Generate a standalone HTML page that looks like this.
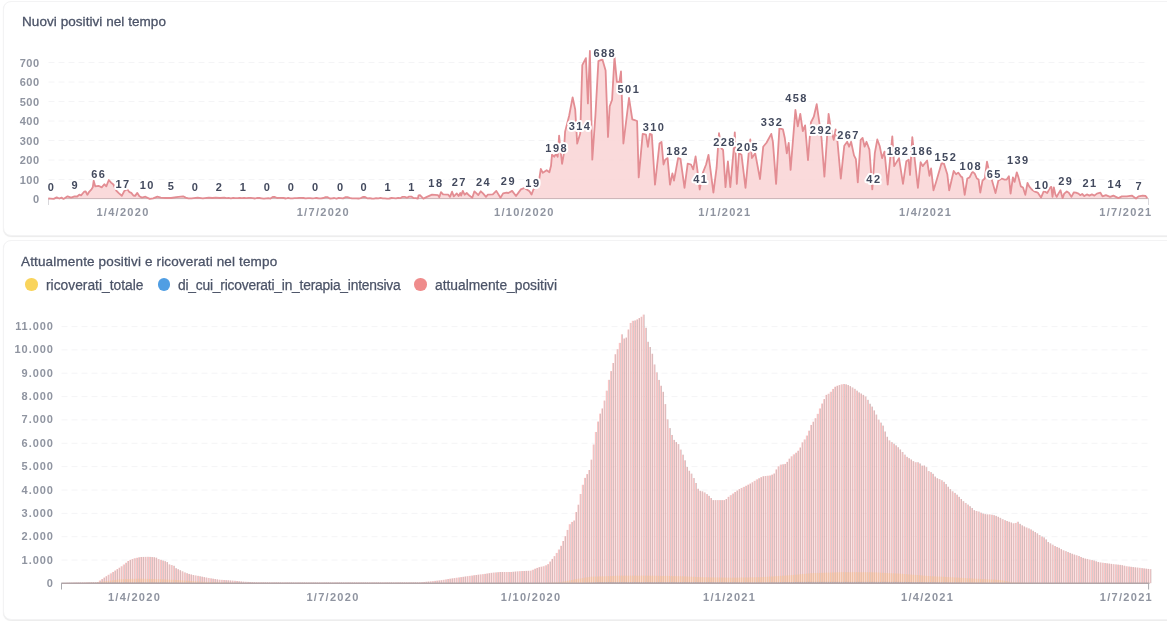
<!DOCTYPE html>
<html><head><meta charset="utf-8"><style>
html,body{margin:0;padding:0;background:#fff;width:1167px;height:621px;overflow:hidden;}
body{position:relative;font-family:"Liberation Sans",sans-serif;}
.card{position:absolute;left:3px;width:1200px;background:#fff;border:1px solid #f3f3f4;border-radius:8px;box-shadow:0 1px 1px rgba(0,0,0,0.08);box-sizing:border-box;}
.t{will-change:transform;position:absolute;color:#4b5367;font-size:13.5px;letter-spacing:0.06px;white-space:nowrap;-webkit-text-stroke:0.3px #4b5367;}
.lg{will-change:transform;position:absolute;color:#4b5367;font-size:13.8px;white-space:nowrap;-webkit-text-stroke:0.25px #4b5367;}
.dot{position:absolute;width:12.5px;height:12.5px;border-radius:50%;}
svg{position:absolute;left:0;top:0;will-change:transform;}
.ax{font-family:"Liberation Sans",sans-serif;font-size:11px;font-weight:bold;fill:#8f94a0;letter-spacing:0.6px;}
.xl{letter-spacing:1.3px;}
.a2{letter-spacing:0.95px;}
.dl{font-family:"Liberation Sans",sans-serif;font-size:11px;font-weight:bold;fill:#434a5e;letter-spacing:1.45px;stroke:#fff;stroke-width:4px;paint-order:stroke;stroke-linejoin:round;}
.grid{stroke:#f4f4f6;stroke-width:1;stroke-dasharray:6 4;}
</style></head><body>
<div class="card" style="top:1px;height:235px;"></div>
<div class="card" style="top:240px;height:380px;"></div>
<div class="t" style="left:21.5px;top:13.6px;">Nuovi positivi nel tempo</div>
<div class="t" style="left:21px;top:254.2px;letter-spacing:0.15px;">Attualmente positivi e ricoverati nel tempo</div>
<div class="dot" style="left:25.3px;top:278px;background:#f9d45c;"></div>
<div class="lg" style="left:46px;top:278px;">ricoverati_totale</div>
<div class="dot" style="left:157.5px;top:278px;background:#509ee3;"></div>
<div class="lg" style="left:178px;top:278px;letter-spacing:-0.2px;">di_cui_ricoverati_in_terapia_intensiva</div>
<div class="dot" style="left:414.3px;top:278px;background:#ef8c8c;"></div>
<div class="lg" style="left:435px;top:278px;">attualmente_positivi</div>
<svg width="1167" height="621" viewBox="0 0 1167 621">
<text x="39.8" y="203.1" text-anchor="end" class="ax">0</text>
<text x="39.8" y="183.6" text-anchor="end" class="ax">100</text>
<line x1="48.5" x2="1148.5" y1="179.5" y2="179.5" class="grid"/>
<text x="39.8" y="164.1" text-anchor="end" class="ax">200</text>
<line x1="48.5" x2="1148.5" y1="160.0" y2="160.0" class="grid"/>
<text x="39.8" y="144.6" text-anchor="end" class="ax">300</text>
<line x1="48.5" x2="1148.5" y1="140.5" y2="140.5" class="grid"/>
<text x="39.8" y="125.1" text-anchor="end" class="ax">400</text>
<line x1="48.5" x2="1148.5" y1="121.0" y2="121.0" class="grid"/>
<text x="39.8" y="105.6" text-anchor="end" class="ax">500</text>
<line x1="48.5" x2="1148.5" y1="101.5" y2="101.5" class="grid"/>
<text x="39.8" y="86.1" text-anchor="end" class="ax">600</text>
<line x1="48.5" x2="1148.5" y1="82.0" y2="82.0" class="grid"/>
<text x="39.8" y="66.6" text-anchor="end" class="ax">700</text>
<line x1="48.5" x2="1148.5" y1="62.5" y2="62.5" class="grid"/>
<path d="M48.3,198.5 L50.7,198.7 L53.7,198.9 L56.7,197.4 L59.3,198.5 L61.5,197.6 L63.5,198.9 L67.6,196.3 L71.1,197.6 L74.6,196.3 L77.2,196.5 L79.3,194.6 L81.1,195.4 L84.1,191.7 L85.7,191.5 L87.4,194.8 L88.9,192.2 L91.5,189.3 L92.8,187.2 L93.7,180.7 L95.3,186.4 L98.5,185.8 L101.7,187.4 L104.3,184.2 L106.3,186.4 L108.8,180.0 L111.1,182.6 L113.4,184.5 L116.3,190.6 L118.5,192.9 L121.8,195.8 L124.3,191.0 L127.2,189.3 L129.5,192.2 L131.3,192.9 L133.4,195.5 L135.1,195.9 L137.3,192.9 L139.4,196.3 L142.0,197.6 L145.4,196.7 L149.7,198.9 L153.1,198.4 L157.4,196.7 L160.8,197.6 L166.0,198.0 L171.1,198.0 L176.3,197.1 L183.1,196.3 L185.7,197.6 L188.3,198.4 L191.7,198.4 L197.7,197.6 L202.8,198.4 L208.8,197.6 L212.3,198.0 L215.7,197.6 L220.0,198.0 L224.3,197.6 L226.5,198.1 L228.7,197.9 L230.9,198.3 L233.1,197.9 L235.3,198.2 L237.5,198.1 L239.7,197.8 L241.9,198.2 L244.1,197.8 L246.3,198.1 L248.5,197.9 L250.7,197.9 L252.9,198.1 L255.1,198.5 L257.3,197.9 L259.5,198.0 L261.7,198.3 L263.9,198.6 L266.1,198.3 L268.3,198.1 L270.5,198.6 L272.7,197.0 L274.9,197.0 L277.1,198.0 L279.3,197.9 L281.5,197.9 L283.7,198.0 L285.9,198.5 L288.1,197.9 L290.3,198.3 L292.5,198.3 L294.7,198.1 L296.9,198.2 L299.1,197.9 L301.3,197.8 L303.5,198.0 L305.7,198.3 L307.9,198.1 L310.1,198.1 L312.3,198.3 L314.5,198.2 L316.7,198.0 L318.9,198.4 L321.1,198.4 L323.3,198.0 L325.5,197.2 L327.7,197.2 L329.9,198.5 L332.1,198.4 L334.3,198.0 L336.5,198.6 L338.7,197.9 L340.9,198.1 L343.1,198.4 L345.3,197.2 L347.5,197.2 L349.7,197.8 L351.9,198.3 L354.1,198.4 L356.3,198.3 L358.5,198.5 L360.7,198.1 L362.9,197.0 L365.1,197.0 L367.3,198.3 L369.5,198.2 L371.7,198.5 L373.9,198.6 L376.1,198.2 L378.3,198.3 L380.5,197.8 L382.7,198.4 L384.9,198.3 L387.1,198.6 L389.3,198.5 L391.5,198.0 L393.7,198.1 L395.9,198.3 L398.1,197.8 L400.3,198.2 L402.5,196.8 L404.7,196.8 L406.9,197.8 L409.1,196.6 L411.3,196.6 L413.5,198.0 L415.7,198.1 L417.9,198.5 L418.6,195.3 L420.0,195.1 L423.4,198.6 L426.9,196.9 L432.0,194.7 L438.0,195.1 L439.3,197.3 L441.0,192.1 L443.1,194.3 L448.3,194.7 L450.0,196.9 L452.1,191.7 L453.8,196.4 L456.8,193.4 L458.6,196.0 L460.3,193.0 L461.1,195.6 L462.8,190.9 L464.6,194.7 L466.7,193.0 L469.3,195.6 L472.3,197.7 L474.4,191.3 L476.6,193.4 L478.3,195.1 L480.8,191.3 L483.0,193.4 L486.0,196.9 L487.7,194.7 L492.8,194.3 L496.3,190.9 L500.5,197.7 L503.1,193.4 L506.5,192.6 L508.3,193.0 L512.1,190.9 L516.0,196.0 L518.5,192.6 L520.9,189.4 L524.3,188.0 L527.6,190.0 L529.5,191.3 L531.5,194.6 L533.5,189.3 L536.8,185.4 L539.4,178.1 L540.8,168.9 L542.8,172.8 L546.7,170.2 L549.4,172.2 L551.0,165.8 L552.0,154.7 L554.4,156.7 L556.0,153.7 L557.7,156.7 L559.1,135.6 L560.5,149.7 L562.1,163.8 L563.7,154.7 L565.1,131.6 L569.2,115.5 L572.6,97.3 L575.2,109.4 L577.2,143.6 L580.2,133.6 L582.3,65.1 L585.9,58.1 L587.9,103.4 L589.9,51.0 L592.3,159.7 L595.4,115.5 L598.4,61.1 L602.4,59.4 L605.6,70.6 L608.0,137.0 L609.7,106.3 L612.1,99.7 L614.5,56.9 L616.9,81.9 L619.4,81.9 L621.0,71.5 L623.4,143.5 L629.0,98.0 L632.3,119.4 L634.7,120.2 L637.1,121.0 L638.7,177.4 L642.7,133.9 L646.0,134.7 L647.9,146.8 L649.8,133.9 L651.8,134.7 L655.0,184.7 L659.5,143.5 L661.5,141.9 L663.5,164.5 L665.2,159.7 L667.6,158.1 L670.0,184.7 L672.4,173.4 L674.0,180.6 L678.1,158.1 L680.5,158.9 L684.5,187.9 L687.7,163.7 L691.0,164.5 L693.2,169.4 L695.6,156.5 L697.3,169.4 L699.7,189.5 L702.9,172.6 L706.1,164.5 L708.5,154.8 L710.2,167.7 L713.4,192.7 L716.6,167.7 L719.0,133.1 L721.5,148.4 L723.1,150.0 L725.5,187.1 L727.9,161.3 L730.3,187.1 L733.5,151.6 L734.8,132.3 L736.8,183.9 L739.0,153.2 L741.5,154.8 L745.5,187.9 L748.7,153.2 L750.3,139.5 L751.9,158.1 L755.2,153.2 L760.0,179.0 L763.2,146.8 L766.5,142.7 L771.3,133.9 L772.9,141.9 L776.1,183.9 L779.4,128.2 L782.9,129.3 L784.8,138.0 L786.8,153.4 L788.7,142.8 L790.6,169.9 L795.4,110.0 L797.8,126.4 L800.3,113.8 L802.8,131.2 L805.1,125.4 L808.0,160.2 L810.9,122.5 L813.8,116.7 L816.7,104.2 L819.6,124.4 L821.5,138.0 L824.4,176.6 L828.6,113.8 L830.8,128.3 L833.7,139.9 L835.6,129.3 L837.5,141.8 L840.8,178.6 L844.3,145.7 L847.2,141.8 L849.1,146.7 L851.1,141.8 L854.0,155.4 L855.9,159.2 L857.8,182.4 L860.7,139.9 L862.6,138.0 L864.6,146.7 L866.5,141.8 L869.4,149.6 L872.3,189.4 L874.8,153.2 L877.3,139.5 L879.7,146.0 L882.1,158.1 L884.5,151.6 L887.7,184.7 L890.2,158.1 L892.3,136.3 L894.2,166.1 L896.6,162.1 L899.0,158.1 L903.0,183.9 L906.3,161.3 L908.7,159.7 L910.0,175.0 L912.3,137.1 L914.4,156.5 L917.9,187.9 L920.6,162.1 L922.7,166.1 L927.1,160.5 L929.5,175.8 L931.1,168.5 L933.5,190.3 L936.0,182.3 L941.6,162.9 L944.0,163.7 L947.3,174.2 L949.2,190.3 L953.7,171.0 L956.1,174.2 L958.2,172.6 L961.0,176.6 L962.3,177.3 L964.7,194.8 L967.3,178.5 L969.6,177.4 L972.4,171.7 L974.6,173.4 L976.9,178.5 L978.6,179.6 L980.3,192.6 L982.5,180.7 L984.8,178.5 L985.9,169.5 L987.0,161.6 L988.2,167.2 L992.1,180.7 L995.5,193.1 L998.3,180.7 L1001.7,178.5 L1004.5,179.6 L1006.7,179.6 L1008.9,176.2 L1010.6,193.7 L1012.9,177.3 L1014.6,181.9 L1016.8,172.3 L1018.5,177.4 L1020.8,186.4 L1023.0,187.5 L1025.3,194.8 L1027.5,183.0 L1029.2,186.4 L1031.5,189.2 L1034.3,191.4 L1037.7,192.6 L1041.0,197.6 L1043.9,190.9 L1047.2,193.1 L1050.0,187.5 L1051.3,186.9 L1052.5,196.9 L1053.8,187.3 L1055.4,194.4 L1056.7,196.9 L1058.4,193.6 L1060.5,190.2 L1062.6,198.2 L1064.2,193.6 L1066.8,191.5 L1068.8,192.7 L1071.4,196.9 L1073.9,192.3 L1076.0,192.7 L1078.5,193.6 L1080.2,195.2 L1082.2,194.0 L1084.3,196.1 L1086.9,194.4 L1089.4,195.6 L1091.9,194.4 L1094.4,195.6 L1096.9,193.6 L1100.4,192.7 L1102.5,196.4 L1105.9,195.2 L1110.1,196.9 L1113.4,195.6 L1118.4,198.1 L1121.8,196.4 L1126.8,196.4 L1131.8,195.6 L1136.0,198.5 L1138.5,196.4 L1142.7,195.6 L1145.6,196.0 L1147.3,198.1 L1147.3,198.6 L48.3,198.6 Z" fill="#f9d3d5" fill-opacity="0.85"/>
<line x1="48.3" x2="1148.7" y1="198.6" y2="198.6" stroke="#c9b2b6" stroke-width="1"/>
<line x1="48.5" x2="48.5" y1="198.6" y2="205" stroke="#d8d8dc" stroke-width="1"/>
<line x1="1148.5" x2="1148.5" y1="198.6" y2="205" stroke="#d8d8dc" stroke-width="1"/>
<path d="M48.3,198.5 L50.7,198.7 L53.7,198.9 L56.7,197.4 L59.3,198.5 L61.5,197.6 L63.5,198.9 L67.6,196.3 L71.1,197.6 L74.6,196.3 L77.2,196.5 L79.3,194.6 L81.1,195.4 L84.1,191.7 L85.7,191.5 L87.4,194.8 L88.9,192.2 L91.5,189.3 L92.8,187.2 L93.7,180.7 L95.3,186.4 L98.5,185.8 L101.7,187.4 L104.3,184.2 L106.3,186.4 L108.8,180.0 L111.1,182.6 L113.4,184.5 L116.3,190.6 L118.5,192.9 L121.8,195.8 L124.3,191.0 L127.2,189.3 L129.5,192.2 L131.3,192.9 L133.4,195.5 L135.1,195.9 L137.3,192.9 L139.4,196.3 L142.0,197.6 L145.4,196.7 L149.7,198.9 L153.1,198.4 L157.4,196.7 L160.8,197.6 L166.0,198.0 L171.1,198.0 L176.3,197.1 L183.1,196.3 L185.7,197.6 L188.3,198.4 L191.7,198.4 L197.7,197.6 L202.8,198.4 L208.8,197.6 L212.3,198.0 L215.7,197.6 L220.0,198.0 L224.3,197.6 L226.5,198.1 L228.7,197.9 L230.9,198.3 L233.1,197.9 L235.3,198.2 L237.5,198.1 L239.7,197.8 L241.9,198.2 L244.1,197.8 L246.3,198.1 L248.5,197.9 L250.7,197.9 L252.9,198.1 L255.1,198.5 L257.3,197.9 L259.5,198.0 L261.7,198.3 L263.9,198.6 L266.1,198.3 L268.3,198.1 L270.5,198.6 L272.7,197.0 L274.9,197.0 L277.1,198.0 L279.3,197.9 L281.5,197.9 L283.7,198.0 L285.9,198.5 L288.1,197.9 L290.3,198.3 L292.5,198.3 L294.7,198.1 L296.9,198.2 L299.1,197.9 L301.3,197.8 L303.5,198.0 L305.7,198.3 L307.9,198.1 L310.1,198.1 L312.3,198.3 L314.5,198.2 L316.7,198.0 L318.9,198.4 L321.1,198.4 L323.3,198.0 L325.5,197.2 L327.7,197.2 L329.9,198.5 L332.1,198.4 L334.3,198.0 L336.5,198.6 L338.7,197.9 L340.9,198.1 L343.1,198.4 L345.3,197.2 L347.5,197.2 L349.7,197.8 L351.9,198.3 L354.1,198.4 L356.3,198.3 L358.5,198.5 L360.7,198.1 L362.9,197.0 L365.1,197.0 L367.3,198.3 L369.5,198.2 L371.7,198.5 L373.9,198.6 L376.1,198.2 L378.3,198.3 L380.5,197.8 L382.7,198.4 L384.9,198.3 L387.1,198.6 L389.3,198.5 L391.5,198.0 L393.7,198.1 L395.9,198.3 L398.1,197.8 L400.3,198.2 L402.5,196.8 L404.7,196.8 L406.9,197.8 L409.1,196.6 L411.3,196.6 L413.5,198.0 L415.7,198.1 L417.9,198.5 L418.6,195.3 L420.0,195.1 L423.4,198.6 L426.9,196.9 L432.0,194.7 L438.0,195.1 L439.3,197.3 L441.0,192.1 L443.1,194.3 L448.3,194.7 L450.0,196.9 L452.1,191.7 L453.8,196.4 L456.8,193.4 L458.6,196.0 L460.3,193.0 L461.1,195.6 L462.8,190.9 L464.6,194.7 L466.7,193.0 L469.3,195.6 L472.3,197.7 L474.4,191.3 L476.6,193.4 L478.3,195.1 L480.8,191.3 L483.0,193.4 L486.0,196.9 L487.7,194.7 L492.8,194.3 L496.3,190.9 L500.5,197.7 L503.1,193.4 L506.5,192.6 L508.3,193.0 L512.1,190.9 L516.0,196.0 L518.5,192.6 L520.9,189.4 L524.3,188.0 L527.6,190.0 L529.5,191.3 L531.5,194.6 L533.5,189.3 L536.8,185.4 L539.4,178.1 L540.8,168.9 L542.8,172.8 L546.7,170.2 L549.4,172.2 L551.0,165.8 L552.0,154.7 L554.4,156.7 L556.0,153.7 L557.7,156.7 L559.1,135.6 L560.5,149.7 L562.1,163.8 L563.7,154.7 L565.1,131.6 L569.2,115.5 L572.6,97.3 L575.2,109.4 L577.2,143.6 L580.2,133.6 L582.3,65.1 L585.9,58.1 L587.9,103.4 L589.9,51.0 L592.3,159.7 L595.4,115.5 L598.4,61.1 L602.4,59.4 L605.6,70.6 L608.0,137.0 L609.7,106.3 L612.1,99.7 L614.5,56.9 L616.9,81.9 L619.4,81.9 L621.0,71.5 L623.4,143.5 L629.0,98.0 L632.3,119.4 L634.7,120.2 L637.1,121.0 L638.7,177.4 L642.7,133.9 L646.0,134.7 L647.9,146.8 L649.8,133.9 L651.8,134.7 L655.0,184.7 L659.5,143.5 L661.5,141.9 L663.5,164.5 L665.2,159.7 L667.6,158.1 L670.0,184.7 L672.4,173.4 L674.0,180.6 L678.1,158.1 L680.5,158.9 L684.5,187.9 L687.7,163.7 L691.0,164.5 L693.2,169.4 L695.6,156.5 L697.3,169.4 L699.7,189.5 L702.9,172.6 L706.1,164.5 L708.5,154.8 L710.2,167.7 L713.4,192.7 L716.6,167.7 L719.0,133.1 L721.5,148.4 L723.1,150.0 L725.5,187.1 L727.9,161.3 L730.3,187.1 L733.5,151.6 L734.8,132.3 L736.8,183.9 L739.0,153.2 L741.5,154.8 L745.5,187.9 L748.7,153.2 L750.3,139.5 L751.9,158.1 L755.2,153.2 L760.0,179.0 L763.2,146.8 L766.5,142.7 L771.3,133.9 L772.9,141.9 L776.1,183.9 L779.4,128.2 L782.9,129.3 L784.8,138.0 L786.8,153.4 L788.7,142.8 L790.6,169.9 L795.4,110.0 L797.8,126.4 L800.3,113.8 L802.8,131.2 L805.1,125.4 L808.0,160.2 L810.9,122.5 L813.8,116.7 L816.7,104.2 L819.6,124.4 L821.5,138.0 L824.4,176.6 L828.6,113.8 L830.8,128.3 L833.7,139.9 L835.6,129.3 L837.5,141.8 L840.8,178.6 L844.3,145.7 L847.2,141.8 L849.1,146.7 L851.1,141.8 L854.0,155.4 L855.9,159.2 L857.8,182.4 L860.7,139.9 L862.6,138.0 L864.6,146.7 L866.5,141.8 L869.4,149.6 L872.3,189.4 L874.8,153.2 L877.3,139.5 L879.7,146.0 L882.1,158.1 L884.5,151.6 L887.7,184.7 L890.2,158.1 L892.3,136.3 L894.2,166.1 L896.6,162.1 L899.0,158.1 L903.0,183.9 L906.3,161.3 L908.7,159.7 L910.0,175.0 L912.3,137.1 L914.4,156.5 L917.9,187.9 L920.6,162.1 L922.7,166.1 L927.1,160.5 L929.5,175.8 L931.1,168.5 L933.5,190.3 L936.0,182.3 L941.6,162.9 L944.0,163.7 L947.3,174.2 L949.2,190.3 L953.7,171.0 L956.1,174.2 L958.2,172.6 L961.0,176.6 L962.3,177.3 L964.7,194.8 L967.3,178.5 L969.6,177.4 L972.4,171.7 L974.6,173.4 L976.9,178.5 L978.6,179.6 L980.3,192.6 L982.5,180.7 L984.8,178.5 L985.9,169.5 L987.0,161.6 L988.2,167.2 L992.1,180.7 L995.5,193.1 L998.3,180.7 L1001.7,178.5 L1004.5,179.6 L1006.7,179.6 L1008.9,176.2 L1010.6,193.7 L1012.9,177.3 L1014.6,181.9 L1016.8,172.3 L1018.5,177.4 L1020.8,186.4 L1023.0,187.5 L1025.3,194.8 L1027.5,183.0 L1029.2,186.4 L1031.5,189.2 L1034.3,191.4 L1037.7,192.6 L1041.0,197.6 L1043.9,190.9 L1047.2,193.1 L1050.0,187.5 L1051.3,186.9 L1052.5,196.9 L1053.8,187.3 L1055.4,194.4 L1056.7,196.9 L1058.4,193.6 L1060.5,190.2 L1062.6,198.2 L1064.2,193.6 L1066.8,191.5 L1068.8,192.7 L1071.4,196.9 L1073.9,192.3 L1076.0,192.7 L1078.5,193.6 L1080.2,195.2 L1082.2,194.0 L1084.3,196.1 L1086.9,194.4 L1089.4,195.6 L1091.9,194.4 L1094.4,195.6 L1096.9,193.6 L1100.4,192.7 L1102.5,196.4 L1105.9,195.2 L1110.1,196.9 L1113.4,195.6 L1118.4,198.1 L1121.8,196.4 L1126.8,196.4 L1131.8,195.6 L1136.0,198.5 L1138.5,196.4 L1142.7,195.6 L1145.6,196.0 L1147.3,198.1" fill="none" stroke="#e38d93" stroke-width="1.8" stroke-linejoin="round"/>
<text x="51.6" y="190.9" text-anchor="middle" class="dl">0</text>
<text x="75.4" y="189.1" text-anchor="middle" class="dl">9</text>
<text x="98.8" y="178.0" text-anchor="middle" class="dl">66</text>
<text x="123.0" y="187.6" text-anchor="middle" class="dl">17</text>
<text x="147.3" y="189.0" text-anchor="middle" class="dl">10</text>
<text x="171.5" y="189.9" text-anchor="middle" class="dl">5</text>
<text x="195.5" y="190.9" text-anchor="middle" class="dl">0</text>
<text x="219.5" y="190.5" text-anchor="middle" class="dl">2</text>
<text x="243.5" y="190.7" text-anchor="middle" class="dl">1</text>
<text x="267.5" y="190.9" text-anchor="middle" class="dl">0</text>
<text x="291.5" y="190.9" text-anchor="middle" class="dl">0</text>
<text x="315.8" y="190.9" text-anchor="middle" class="dl">0</text>
<text x="340.7" y="190.9" text-anchor="middle" class="dl">0</text>
<text x="364.4" y="190.9" text-anchor="middle" class="dl">0</text>
<text x="388.4" y="190.7" text-anchor="middle" class="dl">1</text>
<text x="412.0" y="190.7" text-anchor="middle" class="dl">1</text>
<text x="435.9" y="187.4" text-anchor="middle" class="dl">18</text>
<text x="459.2" y="185.6" text-anchor="middle" class="dl">27</text>
<text x="483.5" y="186.2" text-anchor="middle" class="dl">24</text>
<text x="508.4" y="185.2" text-anchor="middle" class="dl">29</text>
<text x="532.9" y="187.2" text-anchor="middle" class="dl">19</text>
<text x="556.7" y="152.3" text-anchor="middle" class="dl">198</text>
<text x="580.1" y="129.7" text-anchor="middle" class="dl">314</text>
<text x="604.8" y="56.7" text-anchor="middle" class="dl">688</text>
<text x="628.9" y="93.2" text-anchor="middle" class="dl">501</text>
<text x="654.0" y="130.5" text-anchor="middle" class="dl">310</text>
<text x="677.5" y="155.4" text-anchor="middle" class="dl">182</text>
<text x="700.7" y="182.9" text-anchor="middle" class="dl">41</text>
<text x="724.6" y="146.4" text-anchor="middle" class="dl">228</text>
<text x="747.8" y="150.9" text-anchor="middle" class="dl">205</text>
<text x="772.0" y="126.2" text-anchor="middle" class="dl">332</text>
<text x="796.5" y="101.6" text-anchor="middle" class="dl">458</text>
<text x="821.2" y="134.0" text-anchor="middle" class="dl">292</text>
<text x="848.5" y="138.8" text-anchor="middle" class="dl">267</text>
<text x="873.9" y="182.7" text-anchor="middle" class="dl">42</text>
<text x="898.1" y="155.4" text-anchor="middle" class="dl">182</text>
<text x="922.3" y="154.6" text-anchor="middle" class="dl">186</text>
<text x="945.9" y="161.3" text-anchor="middle" class="dl">152</text>
<text x="970.8" y="169.8" text-anchor="middle" class="dl">108</text>
<text x="994.3" y="178.2" text-anchor="middle" class="dl">65</text>
<text x="1018.3" y="163.8" text-anchor="middle" class="dl">139</text>
<text x="1042.0" y="189.0" text-anchor="middle" class="dl">10</text>
<text x="1065.8" y="185.2" text-anchor="middle" class="dl">29</text>
<text x="1090.1" y="186.8" text-anchor="middle" class="dl">21</text>
<text x="1115.1" y="188.2" text-anchor="middle" class="dl">14</text>
<text x="1139.2" y="189.5" text-anchor="middle" class="dl">7</text>
<text x="123.0" y="215.8" text-anchor="middle" class="ax xl">1/4/2020</text>
<text x="323.3" y="215.8" text-anchor="middle" class="ax xl">1/7/2020</text>
<text x="524.4" y="215.8" text-anchor="middle" class="ax xl">1/10/2020</text>
<text x="724.8" y="215.8" text-anchor="middle" class="ax xl">1/1/2021</text>
<text x="925.5" y="215.8" text-anchor="middle" class="ax xl">1/4/2021</text>
<text x="1125.9" y="215.8" text-anchor="middle" class="ax xl">1/7/2021</text>
<text x="53.9" y="586.9" text-anchor="end" class="ax a2">0</text>
<text x="53.9" y="563.5" text-anchor="end" class="ax a2">1.000</text>
<line x1="61.5" x2="1149" y1="560.0" y2="560.0" class="grid"/>
<text x="53.9" y="540.2" text-anchor="end" class="ax a2">2.000</text>
<line x1="61.5" x2="1149" y1="536.7" y2="536.7" class="grid"/>
<text x="53.9" y="516.9" text-anchor="end" class="ax a2">3.000</text>
<line x1="61.5" x2="1149" y1="513.4" y2="513.4" class="grid"/>
<text x="53.9" y="493.5" text-anchor="end" class="ax a2">4.000</text>
<line x1="61.5" x2="1149" y1="490.0" y2="490.0" class="grid"/>
<text x="53.9" y="470.1" text-anchor="end" class="ax a2">5.000</text>
<line x1="61.5" x2="1149" y1="466.6" y2="466.6" class="grid"/>
<text x="53.9" y="446.8" text-anchor="end" class="ax a2">6.000</text>
<line x1="61.5" x2="1149" y1="443.3" y2="443.3" class="grid"/>
<text x="53.9" y="423.4" text-anchor="end" class="ax a2">7.000</text>
<line x1="61.5" x2="1149" y1="419.9" y2="419.9" class="grid"/>
<text x="53.9" y="400.1" text-anchor="end" class="ax a2">8.000</text>
<line x1="61.5" x2="1149" y1="396.6" y2="396.6" class="grid"/>
<text x="53.9" y="376.8" text-anchor="end" class="ax a2">9.000</text>
<line x1="61.5" x2="1149" y1="373.2" y2="373.2" class="grid"/>
<text x="53.9" y="353.4" text-anchor="end" class="ax a2">10.000</text>
<line x1="61.5" x2="1149" y1="349.9" y2="349.9" class="grid"/>
<text x="53.9" y="330.1" text-anchor="end" class="ax a2">11.000</text>
<line x1="61.5" x2="1149" y1="326.6" y2="326.6" class="grid"/>
<g><rect x="66.25" y="582.86" width="1.2" height="0.34" fill="#fcc5c5"/><rect x="67.45" y="582.86" width="0.45" height="0.34" fill="#a98b8e"/><rect x="68.43" y="582.75" width="1.2" height="0.45" fill="#fcc5c5"/><rect x="69.63" y="582.75" width="0.45" height="0.45" fill="#a98b8e"/><rect x="70.60" y="582.64" width="1.2" height="0.56" fill="#fcc5c5"/><rect x="71.80" y="582.64" width="0.45" height="0.56" fill="#a98b8e"/><rect x="72.78" y="582.58" width="1.2" height="0.62" fill="#fcc5c5"/><rect x="73.98" y="582.58" width="0.45" height="0.62" fill="#a98b8e"/><rect x="74.95" y="582.54" width="1.2" height="0.66" fill="#fcc5c5"/><rect x="76.15" y="582.54" width="0.45" height="0.66" fill="#a98b8e"/><rect x="77.13" y="582.51" width="1.2" height="0.69" fill="#fcc5c5"/><rect x="78.33" y="582.51" width="0.45" height="0.69" fill="#a98b8e"/><rect x="79.30" y="582.47" width="1.2" height="0.73" fill="#fcc5c5"/><rect x="80.50" y="582.47" width="0.45" height="0.73" fill="#a98b8e"/><rect x="81.48" y="582.43" width="1.2" height="0.77" fill="#fcc5c5"/><rect x="82.68" y="582.43" width="0.45" height="0.77" fill="#a98b8e"/><rect x="83.65" y="582.40" width="1.2" height="0.80" fill="#fcc5c5"/><rect x="84.85" y="582.40" width="0.45" height="0.80" fill="#a98b8e"/><rect x="85.83" y="582.36" width="1.2" height="0.84" fill="#fcc5c5"/><rect x="87.03" y="582.36" width="0.45" height="0.84" fill="#a98b8e"/><rect x="88.00" y="582.32" width="1.2" height="0.88" fill="#fcc5c5"/><rect x="89.20" y="582.32" width="0.45" height="0.88" fill="#a98b8e"/><rect x="90.18" y="582.29" width="1.2" height="0.91" fill="#fcc5c5"/><rect x="91.38" y="582.29" width="0.45" height="0.91" fill="#a98b8e"/><rect x="92.35" y="582.25" width="1.2" height="0.95" fill="#fcc5c5"/><rect x="93.55" y="582.25" width="0.45" height="0.95" fill="#a98b8e"/><rect x="94.53" y="582.22" width="1.2" height="0.98" fill="#fcc5c5"/><rect x="95.73" y="582.22" width="0.45" height="0.98" fill="#a98b8e"/><rect x="96.70" y="582.00" width="1.2" height="1.20" fill="#fcc5c5"/><rect x="97.90" y="582.00" width="0.45" height="1.20" fill="#a98b8e"/><rect x="98.88" y="580.53" width="1.2" height="2.67" fill="#fcc5c5"/><rect x="100.08" y="580.53" width="0.45" height="2.67" fill="#a98b8e"/><rect x="101.06" y="579.07" width="1.2" height="4.13" fill="#fcc5c5"/><rect x="102.26" y="579.07" width="0.45" height="4.13" fill="#a98b8e"/><rect x="103.23" y="577.63" width="1.2" height="5.57" fill="#fcc5c5"/><rect x="104.43" y="577.63" width="0.45" height="5.57" fill="#a98b8e"/><rect x="105.41" y="576.21" width="1.2" height="6.99" fill="#fcc5c5"/><rect x="106.61" y="576.21" width="0.45" height="6.99" fill="#a98b8e"/><rect x="107.58" y="574.79" width="1.2" height="8.41" fill="#fcc5c5"/><rect x="108.78" y="574.79" width="0.45" height="8.41" fill="#a98b8e"/><rect x="109.76" y="573.38" width="1.2" height="9.82" fill="#fcc5c5"/><rect x="110.96" y="573.38" width="0.45" height="9.82" fill="#a98b8e"/><rect x="111.93" y="571.97" width="1.2" height="11.23" fill="#fcc5c5"/><rect x="113.13" y="571.97" width="0.45" height="11.23" fill="#a98b8e"/><rect x="114.11" y="570.56" width="1.2" height="12.64" fill="#fcc5c5"/><rect x="115.31" y="570.56" width="0.45" height="12.64" fill="#a98b8e"/><rect x="116.28" y="569.14" width="1.2" height="14.06" fill="#fcc5c5"/><rect x="117.48" y="569.14" width="0.45" height="14.06" fill="#a98b8e"/><rect x="118.46" y="567.73" width="1.2" height="15.47" fill="#fcc5c5"/><rect x="119.66" y="567.73" width="0.45" height="15.47" fill="#a98b8e"/><rect x="120.63" y="566.25" width="1.2" height="16.95" fill="#fcc5c5"/><rect x="121.83" y="566.25" width="0.45" height="16.95" fill="#a98b8e"/><rect x="122.81" y="564.50" width="1.2" height="18.70" fill="#fcc5c5"/><rect x="124.01" y="564.50" width="0.45" height="18.70" fill="#a98b8e"/><rect x="124.98" y="562.75" width="1.2" height="20.45" fill="#fcc5c5"/><rect x="126.18" y="562.75" width="0.45" height="20.45" fill="#a98b8e"/><rect x="127.16" y="561.00" width="1.2" height="22.20" fill="#fcc5c5"/><rect x="128.36" y="561.00" width="0.45" height="22.20" fill="#a98b8e"/><rect x="129.33" y="559.85" width="1.2" height="23.35" fill="#fcc5c5"/><rect x="130.53" y="559.85" width="0.45" height="23.35" fill="#a98b8e"/><rect x="131.51" y="559.02" width="1.2" height="24.18" fill="#fcc5c5"/><rect x="132.71" y="559.02" width="0.45" height="24.18" fill="#a98b8e"/><rect x="133.68" y="558.24" width="1.2" height="24.96" fill="#fcc5c5"/><rect x="134.88" y="558.24" width="0.45" height="24.96" fill="#a98b8e"/><rect x="135.86" y="557.78" width="1.2" height="25.42" fill="#fcc5c5"/><rect x="137.06" y="557.78" width="0.45" height="25.42" fill="#a98b8e"/><rect x="138.04" y="557.31" width="1.2" height="25.89" fill="#fcc5c5"/><rect x="139.24" y="557.31" width="0.45" height="25.89" fill="#a98b8e"/><rect x="140.21" y="556.98" width="1.2" height="26.22" fill="#fcc5c5"/><rect x="141.41" y="556.98" width="0.45" height="26.22" fill="#a98b8e"/><rect x="142.39" y="556.93" width="1.2" height="26.27" fill="#fcc5c5"/><rect x="143.59" y="556.93" width="0.45" height="26.27" fill="#a98b8e"/><rect x="144.56" y="556.87" width="1.2" height="26.33" fill="#fcc5c5"/><rect x="145.76" y="556.87" width="0.45" height="26.33" fill="#a98b8e"/><rect x="146.74" y="556.82" width="1.2" height="26.38" fill="#fcc5c5"/><rect x="147.94" y="556.82" width="0.45" height="26.38" fill="#a98b8e"/><rect x="148.91" y="556.90" width="1.2" height="26.30" fill="#fcc5c5"/><rect x="150.11" y="556.90" width="0.45" height="26.30" fill="#a98b8e"/><rect x="151.09" y="557.05" width="1.2" height="26.15" fill="#fcc5c5"/><rect x="152.29" y="557.05" width="0.45" height="26.15" fill="#a98b8e"/><rect x="153.26" y="557.19" width="1.2" height="26.01" fill="#fcc5c5"/><rect x="154.46" y="557.19" width="0.45" height="26.01" fill="#a98b8e"/><rect x="155.44" y="557.67" width="1.2" height="25.53" fill="#fcc5c5"/><rect x="156.64" y="557.67" width="0.45" height="25.53" fill="#a98b8e"/><rect x="157.61" y="559.05" width="1.2" height="24.15" fill="#fcc5c5"/><rect x="158.81" y="559.05" width="0.45" height="24.15" fill="#a98b8e"/><rect x="159.79" y="559.81" width="1.2" height="23.39" fill="#fcc5c5"/><rect x="160.99" y="559.81" width="0.45" height="23.39" fill="#a98b8e"/><rect x="161.96" y="560.58" width="1.2" height="22.62" fill="#fcc5c5"/><rect x="163.16" y="560.58" width="0.45" height="22.62" fill="#a98b8e"/><rect x="164.14" y="561.17" width="1.2" height="22.03" fill="#fcc5c5"/><rect x="165.34" y="561.17" width="0.45" height="22.03" fill="#a98b8e"/><rect x="166.31" y="562.07" width="1.2" height="21.13" fill="#fcc5c5"/><rect x="167.51" y="562.07" width="0.45" height="21.13" fill="#a98b8e"/><rect x="168.49" y="564.36" width="1.2" height="18.84" fill="#fcc5c5"/><rect x="169.69" y="564.36" width="0.45" height="18.84" fill="#a98b8e"/><rect x="170.66" y="565.07" width="1.2" height="18.13" fill="#fcc5c5"/><rect x="171.86" y="565.07" width="0.45" height="18.13" fill="#a98b8e"/><rect x="172.84" y="565.78" width="1.2" height="17.42" fill="#fcc5c5"/><rect x="174.04" y="565.78" width="0.45" height="17.42" fill="#a98b8e"/><rect x="175.02" y="568.20" width="1.2" height="15.00" fill="#fcc5c5"/><rect x="176.22" y="568.20" width="0.45" height="15.00" fill="#a98b8e"/><rect x="177.19" y="569.20" width="1.2" height="14.00" fill="#fcc5c5"/><rect x="178.39" y="569.20" width="0.45" height="14.00" fill="#a98b8e"/><rect x="179.37" y="570.20" width="1.2" height="13.00" fill="#fcc5c5"/><rect x="180.57" y="570.20" width="0.45" height="13.00" fill="#a98b8e"/><rect x="181.54" y="571.29" width="1.2" height="11.91" fill="#fcc5c5"/><rect x="182.74" y="571.29" width="0.45" height="11.91" fill="#a98b8e"/><rect x="183.72" y="572.41" width="1.2" height="10.79" fill="#fcc5c5"/><rect x="184.92" y="572.41" width="0.45" height="10.79" fill="#a98b8e"/><rect x="185.89" y="573.18" width="1.2" height="10.02" fill="#fcc5c5"/><rect x="187.09" y="573.18" width="0.45" height="10.02" fill="#a98b8e"/><rect x="188.07" y="573.94" width="1.2" height="9.26" fill="#fcc5c5"/><rect x="189.27" y="573.94" width="0.45" height="9.26" fill="#a98b8e"/><rect x="190.24" y="574.46" width="1.2" height="8.74" fill="#fcc5c5"/><rect x="191.44" y="574.46" width="0.45" height="8.74" fill="#a98b8e"/><rect x="192.42" y="574.98" width="1.2" height="8.22" fill="#fcc5c5"/><rect x="193.62" y="574.98" width="0.45" height="8.22" fill="#a98b8e"/><rect x="194.59" y="575.42" width="1.2" height="7.78" fill="#fcc5c5"/><rect x="195.79" y="575.42" width="0.45" height="7.78" fill="#a98b8e"/><rect x="196.77" y="575.83" width="1.2" height="7.37" fill="#fcc5c5"/><rect x="197.97" y="575.83" width="0.45" height="7.37" fill="#a98b8e"/><rect x="198.94" y="576.25" width="1.2" height="6.95" fill="#fcc5c5"/><rect x="200.14" y="576.25" width="0.45" height="6.95" fill="#a98b8e"/><rect x="201.12" y="576.67" width="1.2" height="6.53" fill="#fcc5c5"/><rect x="202.32" y="576.67" width="0.45" height="6.53" fill="#a98b8e"/><rect x="203.29" y="577.10" width="1.2" height="6.10" fill="#fcc5c5"/><rect x="204.49" y="577.10" width="0.45" height="6.10" fill="#a98b8e"/><rect x="205.47" y="577.53" width="1.2" height="5.67" fill="#fcc5c5"/><rect x="206.67" y="577.53" width="0.45" height="5.67" fill="#a98b8e"/><rect x="207.65" y="577.95" width="1.2" height="5.25" fill="#fcc5c5"/><rect x="208.85" y="577.95" width="0.45" height="5.25" fill="#a98b8e"/><rect x="209.82" y="578.33" width="1.2" height="4.87" fill="#fcc5c5"/><rect x="211.02" y="578.33" width="0.45" height="4.87" fill="#a98b8e"/><rect x="212.00" y="578.68" width="1.2" height="4.52" fill="#fcc5c5"/><rect x="213.20" y="578.68" width="0.45" height="4.52" fill="#a98b8e"/><rect x="214.17" y="579.02" width="1.2" height="4.18" fill="#fcc5c5"/><rect x="215.37" y="579.02" width="0.45" height="4.18" fill="#a98b8e"/><rect x="216.35" y="579.37" width="1.2" height="3.83" fill="#fcc5c5"/><rect x="217.55" y="579.37" width="0.45" height="3.83" fill="#a98b8e"/><rect x="218.52" y="579.71" width="1.2" height="3.49" fill="#fcc5c5"/><rect x="219.72" y="579.71" width="0.45" height="3.49" fill="#a98b8e"/><rect x="220.70" y="579.85" width="1.2" height="3.35" fill="#fcc5c5"/><rect x="221.90" y="579.85" width="0.45" height="3.35" fill="#a98b8e"/><rect x="222.87" y="579.99" width="1.2" height="3.21" fill="#fcc5c5"/><rect x="224.07" y="579.99" width="0.45" height="3.21" fill="#a98b8e"/><rect x="225.05" y="580.13" width="1.2" height="3.07" fill="#fcc5c5"/><rect x="226.25" y="580.13" width="0.45" height="3.07" fill="#a98b8e"/><rect x="227.22" y="580.27" width="1.2" height="2.93" fill="#fcc5c5"/><rect x="228.42" y="580.27" width="0.45" height="2.93" fill="#a98b8e"/><rect x="229.40" y="580.42" width="1.2" height="2.78" fill="#fcc5c5"/><rect x="230.60" y="580.42" width="0.45" height="2.78" fill="#a98b8e"/><rect x="231.57" y="580.59" width="1.2" height="2.61" fill="#fcc5c5"/><rect x="232.77" y="580.59" width="0.45" height="2.61" fill="#a98b8e"/><rect x="233.75" y="580.80" width="1.2" height="2.40" fill="#fcc5c5"/><rect x="234.95" y="580.80" width="0.45" height="2.40" fill="#a98b8e"/><rect x="235.92" y="581.01" width="1.2" height="2.19" fill="#fcc5c5"/><rect x="237.12" y="581.01" width="0.45" height="2.19" fill="#a98b8e"/><rect x="238.10" y="581.23" width="1.2" height="1.97" fill="#fcc5c5"/><rect x="239.30" y="581.23" width="0.45" height="1.97" fill="#a98b8e"/><rect x="240.27" y="581.44" width="1.2" height="1.76" fill="#fcc5c5"/><rect x="241.47" y="581.44" width="0.45" height="1.76" fill="#a98b8e"/><rect x="242.45" y="581.66" width="1.2" height="1.54" fill="#fcc5c5"/><rect x="243.65" y="581.66" width="0.45" height="1.54" fill="#a98b8e"/><rect x="244.63" y="581.79" width="1.2" height="1.41" fill="#fcc5c5"/><rect x="245.83" y="581.79" width="0.45" height="1.41" fill="#a98b8e"/><rect x="246.80" y="581.90" width="1.2" height="1.30" fill="#fcc5c5"/><rect x="248.00" y="581.90" width="0.45" height="1.30" fill="#a98b8e"/><rect x="248.98" y="582.02" width="1.2" height="1.18" fill="#fcc5c5"/><rect x="250.18" y="582.02" width="0.45" height="1.18" fill="#a98b8e"/><rect x="251.15" y="582.13" width="1.2" height="1.07" fill="#fcc5c5"/><rect x="252.35" y="582.13" width="0.45" height="1.07" fill="#a98b8e"/><rect x="253.33" y="582.24" width="1.2" height="0.96" fill="#fcc5c5"/><rect x="254.53" y="582.24" width="0.45" height="0.96" fill="#a98b8e"/><rect x="255.50" y="582.30" width="1.2" height="0.90" fill="#fcc5c5"/><rect x="256.70" y="582.30" width="0.45" height="0.90" fill="#a98b8e"/><rect x="257.68" y="582.31" width="1.2" height="0.89" fill="#fcc5c5"/><rect x="258.88" y="582.31" width="0.45" height="0.89" fill="#a98b8e"/><rect x="259.85" y="582.32" width="1.2" height="0.88" fill="#fcc5c5"/><rect x="261.05" y="582.32" width="0.45" height="0.88" fill="#a98b8e"/><rect x="262.03" y="582.33" width="1.2" height="0.87" fill="#fcc5c5"/><rect x="263.23" y="582.33" width="0.45" height="0.87" fill="#a98b8e"/><rect x="264.20" y="582.34" width="1.2" height="0.86" fill="#fcc5c5"/><rect x="265.40" y="582.34" width="0.45" height="0.86" fill="#a98b8e"/><rect x="266.38" y="582.35" width="1.2" height="0.85" fill="#fcc5c5"/><rect x="267.58" y="582.35" width="0.45" height="0.85" fill="#a98b8e"/><rect x="268.55" y="582.36" width="1.2" height="0.84" fill="#fcc5c5"/><rect x="269.75" y="582.36" width="0.45" height="0.84" fill="#a98b8e"/><rect x="270.73" y="582.37" width="1.2" height="0.83" fill="#fcc5c5"/><rect x="271.93" y="582.37" width="0.45" height="0.83" fill="#a98b8e"/><rect x="272.90" y="582.38" width="1.2" height="0.82" fill="#fcc5c5"/><rect x="274.10" y="582.38" width="0.45" height="0.82" fill="#a98b8e"/><rect x="275.08" y="582.39" width="1.2" height="0.81" fill="#fcc5c5"/><rect x="276.28" y="582.39" width="0.45" height="0.81" fill="#a98b8e"/><rect x="277.25" y="582.40" width="1.2" height="0.80" fill="#fcc5c5"/><rect x="278.45" y="582.40" width="0.45" height="0.80" fill="#a98b8e"/><rect x="279.43" y="582.41" width="1.2" height="0.79" fill="#fcc5c5"/><rect x="280.63" y="582.41" width="0.45" height="0.79" fill="#a98b8e"/><rect x="281.61" y="582.42" width="1.2" height="0.78" fill="#fcc5c5"/><rect x="282.81" y="582.42" width="0.45" height="0.78" fill="#a98b8e"/><rect x="283.78" y="582.43" width="1.2" height="0.77" fill="#fcc5c5"/><rect x="284.98" y="582.43" width="0.45" height="0.77" fill="#a98b8e"/><rect x="285.96" y="582.44" width="1.2" height="0.76" fill="#fcc5c5"/><rect x="287.16" y="582.44" width="0.45" height="0.76" fill="#a98b8e"/><rect x="288.13" y="582.45" width="1.2" height="0.75" fill="#fcc5c5"/><rect x="289.33" y="582.45" width="0.45" height="0.75" fill="#a98b8e"/><rect x="290.31" y="582.46" width="1.2" height="0.74" fill="#fcc5c5"/><rect x="291.51" y="582.46" width="0.45" height="0.74" fill="#a98b8e"/><rect x="292.48" y="582.47" width="1.2" height="0.73" fill="#fcc5c5"/><rect x="293.68" y="582.47" width="0.45" height="0.73" fill="#a98b8e"/><rect x="294.66" y="582.48" width="1.2" height="0.72" fill="#fcc5c5"/><rect x="295.86" y="582.48" width="0.45" height="0.72" fill="#a98b8e"/><rect x="296.83" y="582.49" width="1.2" height="0.71" fill="#fcc5c5"/><rect x="298.03" y="582.49" width="0.45" height="0.71" fill="#a98b8e"/><rect x="299.01" y="582.50" width="1.2" height="0.70" fill="#fcc5c5"/><rect x="300.21" y="582.50" width="0.45" height="0.70" fill="#a98b8e"/><rect x="301.18" y="582.50" width="1.2" height="0.70" fill="#fcc5c5"/><rect x="302.38" y="582.50" width="0.45" height="0.70" fill="#a98b8e"/><rect x="303.36" y="582.50" width="1.2" height="0.70" fill="#fcc5c5"/><rect x="304.56" y="582.50" width="0.45" height="0.70" fill="#a98b8e"/><rect x="305.53" y="582.49" width="1.2" height="0.71" fill="#fcc5c5"/><rect x="306.73" y="582.49" width="0.45" height="0.71" fill="#a98b8e"/><rect x="307.71" y="582.49" width="1.2" height="0.71" fill="#fcc5c5"/><rect x="308.91" y="582.49" width="0.45" height="0.71" fill="#a98b8e"/><rect x="309.88" y="582.49" width="1.2" height="0.71" fill="#fcc5c5"/><rect x="311.08" y="582.49" width="0.45" height="0.71" fill="#a98b8e"/><rect x="312.06" y="582.49" width="1.2" height="0.71" fill="#fcc5c5"/><rect x="313.26" y="582.49" width="0.45" height="0.71" fill="#a98b8e"/><rect x="314.23" y="582.49" width="1.2" height="0.71" fill="#fcc5c5"/><rect x="315.43" y="582.49" width="0.45" height="0.71" fill="#a98b8e"/><rect x="316.41" y="582.48" width="1.2" height="0.72" fill="#fcc5c5"/><rect x="317.61" y="582.48" width="0.45" height="0.72" fill="#a98b8e"/><rect x="318.59" y="582.48" width="1.2" height="0.72" fill="#fcc5c5"/><rect x="319.79" y="582.48" width="0.45" height="0.72" fill="#a98b8e"/><rect x="320.76" y="582.48" width="1.2" height="0.72" fill="#fcc5c5"/><rect x="321.96" y="582.48" width="0.45" height="0.72" fill="#a98b8e"/><rect x="322.94" y="582.48" width="1.2" height="0.72" fill="#fcc5c5"/><rect x="324.14" y="582.48" width="0.45" height="0.72" fill="#a98b8e"/><rect x="325.11" y="582.47" width="1.2" height="0.73" fill="#fcc5c5"/><rect x="326.31" y="582.47" width="0.45" height="0.73" fill="#a98b8e"/><rect x="327.29" y="582.47" width="1.2" height="0.73" fill="#fcc5c5"/><rect x="328.49" y="582.47" width="0.45" height="0.73" fill="#a98b8e"/><rect x="329.46" y="582.47" width="1.2" height="0.73" fill="#fcc5c5"/><rect x="330.66" y="582.47" width="0.45" height="0.73" fill="#a98b8e"/><rect x="331.64" y="582.47" width="1.2" height="0.73" fill="#fcc5c5"/><rect x="332.84" y="582.47" width="0.45" height="0.73" fill="#a98b8e"/><rect x="333.81" y="582.47" width="1.2" height="0.73" fill="#fcc5c5"/><rect x="335.01" y="582.47" width="0.45" height="0.73" fill="#a98b8e"/><rect x="335.99" y="582.46" width="1.2" height="0.74" fill="#fcc5c5"/><rect x="337.19" y="582.46" width="0.45" height="0.74" fill="#a98b8e"/><rect x="338.16" y="582.46" width="1.2" height="0.74" fill="#fcc5c5"/><rect x="339.36" y="582.46" width="0.45" height="0.74" fill="#a98b8e"/><rect x="340.34" y="582.46" width="1.2" height="0.74" fill="#fcc5c5"/><rect x="341.54" y="582.46" width="0.45" height="0.74" fill="#a98b8e"/><rect x="342.51" y="582.46" width="1.2" height="0.74" fill="#fcc5c5"/><rect x="343.71" y="582.46" width="0.45" height="0.74" fill="#a98b8e"/><rect x="344.69" y="582.45" width="1.2" height="0.75" fill="#fcc5c5"/><rect x="345.89" y="582.45" width="0.45" height="0.75" fill="#a98b8e"/><rect x="346.86" y="582.45" width="1.2" height="0.75" fill="#fcc5c5"/><rect x="348.06" y="582.45" width="0.45" height="0.75" fill="#a98b8e"/><rect x="349.04" y="582.45" width="1.2" height="0.75" fill="#fcc5c5"/><rect x="350.24" y="582.45" width="0.45" height="0.75" fill="#a98b8e"/><rect x="351.21" y="582.45" width="1.2" height="0.75" fill="#fcc5c5"/><rect x="352.41" y="582.45" width="0.45" height="0.75" fill="#a98b8e"/><rect x="353.39" y="582.45" width="1.2" height="0.75" fill="#fcc5c5"/><rect x="354.59" y="582.45" width="0.45" height="0.75" fill="#a98b8e"/><rect x="355.57" y="582.44" width="1.2" height="0.76" fill="#fcc5c5"/><rect x="356.77" y="582.44" width="0.45" height="0.76" fill="#a98b8e"/><rect x="357.74" y="582.44" width="1.2" height="0.76" fill="#fcc5c5"/><rect x="358.94" y="582.44" width="0.45" height="0.76" fill="#a98b8e"/><rect x="359.92" y="582.44" width="1.2" height="0.76" fill="#fcc5c5"/><rect x="361.12" y="582.44" width="0.45" height="0.76" fill="#a98b8e"/><rect x="362.09" y="582.44" width="1.2" height="0.76" fill="#fcc5c5"/><rect x="363.29" y="582.44" width="0.45" height="0.76" fill="#a98b8e"/><rect x="364.27" y="582.44" width="1.2" height="0.76" fill="#fcc5c5"/><rect x="365.47" y="582.44" width="0.45" height="0.76" fill="#a98b8e"/><rect x="366.44" y="582.43" width="1.2" height="0.77" fill="#fcc5c5"/><rect x="367.64" y="582.43" width="0.45" height="0.77" fill="#a98b8e"/><rect x="368.62" y="582.43" width="1.2" height="0.77" fill="#fcc5c5"/><rect x="369.82" y="582.43" width="0.45" height="0.77" fill="#a98b8e"/><rect x="370.79" y="582.43" width="1.2" height="0.77" fill="#fcc5c5"/><rect x="371.99" y="582.43" width="0.45" height="0.77" fill="#a98b8e"/><rect x="372.97" y="582.43" width="1.2" height="0.77" fill="#fcc5c5"/><rect x="374.17" y="582.43" width="0.45" height="0.77" fill="#a98b8e"/><rect x="375.14" y="582.42" width="1.2" height="0.78" fill="#fcc5c5"/><rect x="376.34" y="582.42" width="0.45" height="0.78" fill="#a98b8e"/><rect x="377.32" y="582.42" width="1.2" height="0.78" fill="#fcc5c5"/><rect x="378.52" y="582.42" width="0.45" height="0.78" fill="#a98b8e"/><rect x="379.49" y="582.42" width="1.2" height="0.78" fill="#fcc5c5"/><rect x="380.69" y="582.42" width="0.45" height="0.78" fill="#a98b8e"/><rect x="381.67" y="582.42" width="1.2" height="0.78" fill="#fcc5c5"/><rect x="382.87" y="582.42" width="0.45" height="0.78" fill="#a98b8e"/><rect x="383.84" y="582.42" width="1.2" height="0.78" fill="#fcc5c5"/><rect x="385.04" y="582.42" width="0.45" height="0.78" fill="#a98b8e"/><rect x="386.02" y="582.41" width="1.2" height="0.79" fill="#fcc5c5"/><rect x="387.22" y="582.41" width="0.45" height="0.79" fill="#a98b8e"/><rect x="388.19" y="582.41" width="1.2" height="0.79" fill="#fcc5c5"/><rect x="389.39" y="582.41" width="0.45" height="0.79" fill="#a98b8e"/><rect x="390.37" y="582.41" width="1.2" height="0.79" fill="#fcc5c5"/><rect x="391.57" y="582.41" width="0.45" height="0.79" fill="#a98b8e"/><rect x="392.55" y="582.41" width="1.2" height="0.79" fill="#fcc5c5"/><rect x="393.75" y="582.41" width="0.45" height="0.79" fill="#a98b8e"/><rect x="394.72" y="582.40" width="1.2" height="0.80" fill="#fcc5c5"/><rect x="395.92" y="582.40" width="0.45" height="0.80" fill="#a98b8e"/><rect x="396.90" y="582.40" width="1.2" height="0.80" fill="#fcc5c5"/><rect x="398.10" y="582.40" width="0.45" height="0.80" fill="#a98b8e"/><rect x="399.07" y="582.40" width="1.2" height="0.80" fill="#fcc5c5"/><rect x="400.27" y="582.40" width="0.45" height="0.80" fill="#a98b8e"/><rect x="401.25" y="582.39" width="1.2" height="0.81" fill="#fcc5c5"/><rect x="402.45" y="582.39" width="0.45" height="0.81" fill="#a98b8e"/><rect x="403.42" y="582.38" width="1.2" height="0.82" fill="#fcc5c5"/><rect x="404.62" y="582.38" width="0.45" height="0.82" fill="#a98b8e"/><rect x="405.60" y="582.37" width="1.2" height="0.83" fill="#fcc5c5"/><rect x="406.80" y="582.37" width="0.45" height="0.83" fill="#a98b8e"/><rect x="407.77" y="582.36" width="1.2" height="0.84" fill="#fcc5c5"/><rect x="408.97" y="582.36" width="0.45" height="0.84" fill="#a98b8e"/><rect x="409.95" y="582.35" width="1.2" height="0.85" fill="#fcc5c5"/><rect x="411.15" y="582.35" width="0.45" height="0.85" fill="#a98b8e"/><rect x="412.12" y="582.34" width="1.2" height="0.86" fill="#fcc5c5"/><rect x="413.32" y="582.34" width="0.45" height="0.86" fill="#a98b8e"/><rect x="414.30" y="582.33" width="1.2" height="0.87" fill="#fcc5c5"/><rect x="415.50" y="582.33" width="0.45" height="0.87" fill="#a98b8e"/><rect x="416.47" y="582.31" width="1.2" height="0.89" fill="#fcc5c5"/><rect x="417.67" y="582.31" width="0.45" height="0.89" fill="#a98b8e"/><rect x="418.65" y="582.30" width="1.2" height="0.90" fill="#fcc5c5"/><rect x="419.85" y="582.30" width="0.45" height="0.90" fill="#a98b8e"/><rect x="420.82" y="582.17" width="1.2" height="1.03" fill="#fcc5c5"/><rect x="422.02" y="582.17" width="0.45" height="1.03" fill="#a98b8e"/><rect x="423.00" y="581.97" width="1.2" height="1.23" fill="#fcc5c5"/><rect x="424.20" y="581.97" width="0.45" height="1.23" fill="#a98b8e"/><rect x="425.18" y="581.77" width="1.2" height="1.43" fill="#fcc5c5"/><rect x="426.38" y="581.77" width="0.45" height="1.43" fill="#a98b8e"/><rect x="427.35" y="581.57" width="1.2" height="1.63" fill="#fcc5c5"/><rect x="428.55" y="581.57" width="0.45" height="1.63" fill="#a98b8e"/><rect x="429.53" y="581.34" width="1.2" height="1.86" fill="#fcc5c5"/><rect x="430.73" y="581.34" width="0.45" height="1.86" fill="#a98b8e"/><rect x="431.70" y="581.11" width="1.2" height="2.09" fill="#fcc5c5"/><rect x="432.90" y="581.11" width="0.45" height="2.09" fill="#a98b8e"/><rect x="433.88" y="580.88" width="1.2" height="2.32" fill="#fcc5c5"/><rect x="435.08" y="580.88" width="0.45" height="2.32" fill="#a98b8e"/><rect x="436.05" y="580.65" width="1.2" height="2.55" fill="#fcc5c5"/><rect x="437.25" y="580.65" width="0.45" height="2.55" fill="#a98b8e"/><rect x="438.23" y="580.42" width="1.2" height="2.78" fill="#fcc5c5"/><rect x="439.43" y="580.42" width="0.45" height="2.78" fill="#a98b8e"/><rect x="440.40" y="580.19" width="1.2" height="3.01" fill="#fcc5c5"/><rect x="441.60" y="580.19" width="0.45" height="3.01" fill="#a98b8e"/><rect x="442.58" y="579.85" width="1.2" height="3.35" fill="#fcc5c5"/><rect x="443.78" y="579.85" width="0.45" height="3.35" fill="#a98b8e"/><rect x="444.75" y="579.42" width="1.2" height="3.78" fill="#fcc5c5"/><rect x="445.95" y="579.42" width="0.45" height="3.78" fill="#a98b8e"/><rect x="446.93" y="579.02" width="1.2" height="4.18" fill="#fcc5c5"/><rect x="448.13" y="579.02" width="0.45" height="4.18" fill="#a98b8e"/><rect x="449.10" y="578.71" width="1.2" height="4.49" fill="#fcc5c5"/><rect x="450.30" y="578.71" width="0.45" height="4.49" fill="#a98b8e"/><rect x="451.28" y="578.40" width="1.2" height="4.80" fill="#fcc5c5"/><rect x="452.48" y="578.40" width="0.45" height="4.80" fill="#a98b8e"/><rect x="453.45" y="578.08" width="1.2" height="5.12" fill="#fcc5c5"/><rect x="454.65" y="578.08" width="0.45" height="5.12" fill="#a98b8e"/><rect x="455.63" y="577.77" width="1.2" height="5.43" fill="#fcc5c5"/><rect x="456.83" y="577.77" width="0.45" height="5.43" fill="#a98b8e"/><rect x="457.80" y="577.45" width="1.2" height="5.75" fill="#fcc5c5"/><rect x="459.00" y="577.45" width="0.45" height="5.75" fill="#a98b8e"/><rect x="459.98" y="577.14" width="1.2" height="6.06" fill="#fcc5c5"/><rect x="461.18" y="577.14" width="0.45" height="6.06" fill="#a98b8e"/><rect x="462.16" y="576.82" width="1.2" height="6.38" fill="#fcc5c5"/><rect x="463.36" y="576.82" width="0.45" height="6.38" fill="#a98b8e"/><rect x="464.33" y="576.51" width="1.2" height="6.69" fill="#fcc5c5"/><rect x="465.53" y="576.51" width="0.45" height="6.69" fill="#a98b8e"/><rect x="466.51" y="576.20" width="1.2" height="7.00" fill="#fcc5c5"/><rect x="467.71" y="576.20" width="0.45" height="7.00" fill="#a98b8e"/><rect x="468.68" y="575.88" width="1.2" height="7.32" fill="#fcc5c5"/><rect x="469.88" y="575.88" width="0.45" height="7.32" fill="#a98b8e"/><rect x="470.86" y="575.57" width="1.2" height="7.63" fill="#fcc5c5"/><rect x="472.06" y="575.57" width="0.45" height="7.63" fill="#a98b8e"/><rect x="473.03" y="575.25" width="1.2" height="7.95" fill="#fcc5c5"/><rect x="474.23" y="575.25" width="0.45" height="7.95" fill="#a98b8e"/><rect x="475.21" y="574.97" width="1.2" height="8.23" fill="#fcc5c5"/><rect x="476.41" y="574.97" width="0.45" height="8.23" fill="#a98b8e"/><rect x="477.38" y="574.70" width="1.2" height="8.50" fill="#fcc5c5"/><rect x="478.58" y="574.70" width="0.45" height="8.50" fill="#a98b8e"/><rect x="479.56" y="574.42" width="1.2" height="8.78" fill="#fcc5c5"/><rect x="480.76" y="574.42" width="0.45" height="8.78" fill="#a98b8e"/><rect x="481.73" y="574.15" width="1.2" height="9.05" fill="#fcc5c5"/><rect x="482.93" y="574.15" width="0.45" height="9.05" fill="#a98b8e"/><rect x="483.91" y="573.87" width="1.2" height="9.33" fill="#fcc5c5"/><rect x="485.11" y="573.87" width="0.45" height="9.33" fill="#a98b8e"/><rect x="486.08" y="573.53" width="1.2" height="9.67" fill="#fcc5c5"/><rect x="487.28" y="573.53" width="0.45" height="9.67" fill="#a98b8e"/><rect x="488.26" y="573.19" width="1.2" height="10.01" fill="#fcc5c5"/><rect x="489.46" y="573.19" width="0.45" height="10.01" fill="#a98b8e"/><rect x="490.43" y="572.85" width="1.2" height="10.35" fill="#fcc5c5"/><rect x="491.63" y="572.85" width="0.45" height="10.35" fill="#a98b8e"/><rect x="492.61" y="572.59" width="1.2" height="10.61" fill="#fcc5c5"/><rect x="493.81" y="572.59" width="0.45" height="10.61" fill="#a98b8e"/><rect x="494.78" y="572.39" width="1.2" height="10.81" fill="#fcc5c5"/><rect x="495.98" y="572.39" width="0.45" height="10.81" fill="#a98b8e"/><rect x="496.96" y="572.19" width="1.2" height="11.01" fill="#fcc5c5"/><rect x="498.16" y="572.19" width="0.45" height="11.01" fill="#a98b8e"/><rect x="499.14" y="572.00" width="1.2" height="11.20" fill="#fcc5c5"/><rect x="500.34" y="572.00" width="0.45" height="11.20" fill="#a98b8e"/><rect x="501.31" y="572.00" width="1.2" height="11.20" fill="#fcc5c5"/><rect x="502.51" y="572.00" width="0.45" height="11.20" fill="#a98b8e"/><rect x="503.49" y="572.00" width="1.2" height="11.20" fill="#fcc5c5"/><rect x="504.69" y="572.00" width="0.45" height="11.20" fill="#a98b8e"/><rect x="505.66" y="572.00" width="1.2" height="11.20" fill="#fcc5c5"/><rect x="506.86" y="572.00" width="0.45" height="11.20" fill="#a98b8e"/><rect x="507.84" y="572.00" width="1.2" height="11.20" fill="#fcc5c5"/><rect x="509.04" y="572.00" width="0.45" height="11.20" fill="#a98b8e"/><rect x="510.01" y="571.95" width="1.2" height="11.25" fill="#fcc5c5"/><rect x="511.21" y="571.95" width="0.45" height="11.25" fill="#a98b8e"/><rect x="512.19" y="571.76" width="1.2" height="11.44" fill="#fcc5c5"/><rect x="513.39" y="571.76" width="0.45" height="11.44" fill="#a98b8e"/><rect x="514.36" y="571.57" width="1.2" height="11.63" fill="#fcc5c5"/><rect x="515.56" y="571.57" width="0.45" height="11.63" fill="#a98b8e"/><rect x="516.54" y="571.38" width="1.2" height="11.82" fill="#fcc5c5"/><rect x="517.74" y="571.38" width="0.45" height="11.82" fill="#a98b8e"/><rect x="518.71" y="571.19" width="1.2" height="12.01" fill="#fcc5c5"/><rect x="519.91" y="571.19" width="0.45" height="12.01" fill="#a98b8e"/><rect x="520.89" y="571.05" width="1.2" height="12.15" fill="#fcc5c5"/><rect x="522.09" y="571.05" width="0.45" height="12.15" fill="#a98b8e"/><rect x="523.06" y="570.97" width="1.2" height="12.23" fill="#fcc5c5"/><rect x="524.26" y="570.97" width="0.45" height="12.23" fill="#a98b8e"/><rect x="525.24" y="570.88" width="1.2" height="12.32" fill="#fcc5c5"/><rect x="526.44" y="570.88" width="0.45" height="12.32" fill="#a98b8e"/><rect x="527.41" y="570.80" width="1.2" height="12.40" fill="#fcc5c5"/><rect x="528.61" y="570.80" width="0.45" height="12.40" fill="#a98b8e"/><rect x="529.59" y="570.71" width="1.2" height="12.49" fill="#fcc5c5"/><rect x="530.79" y="570.71" width="0.45" height="12.49" fill="#a98b8e"/><rect x="531.76" y="569.79" width="1.2" height="13.41" fill="#fcc5c5"/><rect x="532.96" y="569.79" width="0.45" height="13.41" fill="#a98b8e"/><rect x="533.94" y="568.75" width="1.2" height="14.45" fill="#fcc5c5"/><rect x="535.14" y="568.75" width="0.45" height="14.45" fill="#a98b8e"/><rect x="536.12" y="567.91" width="1.2" height="15.29" fill="#fcc5c5"/><rect x="537.32" y="567.91" width="0.45" height="15.29" fill="#a98b8e"/><rect x="538.29" y="567.17" width="1.2" height="16.03" fill="#fcc5c5"/><rect x="539.49" y="567.17" width="0.45" height="16.03" fill="#a98b8e"/><rect x="540.47" y="566.70" width="1.2" height="16.50" fill="#fcc5c5"/><rect x="541.67" y="566.70" width="0.45" height="16.50" fill="#a98b8e"/><rect x="542.64" y="566.23" width="1.2" height="16.97" fill="#fcc5c5"/><rect x="543.84" y="566.23" width="0.45" height="16.97" fill="#a98b8e"/><rect x="544.82" y="565.32" width="1.2" height="17.88" fill="#fcc5c5"/><rect x="546.02" y="565.32" width="0.45" height="17.88" fill="#a98b8e"/><rect x="546.99" y="564.15" width="1.2" height="19.05" fill="#fcc5c5"/><rect x="548.19" y="564.15" width="0.45" height="19.05" fill="#a98b8e"/><rect x="549.17" y="561.58" width="1.2" height="21.62" fill="#fcc5c5"/><rect x="550.37" y="561.58" width="0.45" height="21.62" fill="#a98b8e"/><rect x="551.34" y="558.92" width="1.2" height="24.28" fill="#fcc5c5"/><rect x="552.54" y="558.92" width="0.45" height="24.28" fill="#a98b8e"/><rect x="553.52" y="556.13" width="1.2" height="27.07" fill="#fcc5c5"/><rect x="554.72" y="556.13" width="0.45" height="27.07" fill="#a98b8e"/><rect x="555.69" y="552.93" width="1.2" height="30.27" fill="#fcc5c5"/><rect x="556.89" y="552.93" width="0.45" height="30.27" fill="#a98b8e"/><rect x="557.87" y="549.51" width="1.2" height="33.69" fill="#fcc5c5"/><rect x="559.07" y="549.51" width="0.45" height="33.69" fill="#a98b8e"/><rect x="560.04" y="545.80" width="1.2" height="37.40" fill="#fcc5c5"/><rect x="561.24" y="545.80" width="0.45" height="37.40" fill="#a98b8e"/><rect x="562.22" y="541.01" width="1.2" height="42.19" fill="#fcc5c5"/><rect x="563.42" y="541.01" width="0.45" height="42.19" fill="#a98b8e"/><rect x="564.39" y="536.22" width="1.2" height="46.98" fill="#fcc5c5"/><rect x="565.59" y="536.22" width="0.45" height="46.98" fill="#a98b8e"/><rect x="566.57" y="529.93" width="1.2" height="53.27" fill="#fcc5c5"/><rect x="567.77" y="529.93" width="0.45" height="53.27" fill="#a98b8e"/><rect x="568.74" y="524.23" width="1.2" height="58.97" fill="#fcc5c5"/><rect x="569.94" y="524.23" width="0.45" height="58.97" fill="#a98b8e"/><rect x="570.92" y="521.93" width="1.2" height="61.27" fill="#fcc5c5"/><rect x="572.12" y="521.93" width="0.45" height="61.27" fill="#a98b8e"/><rect x="573.10" y="520.50" width="1.2" height="62.70" fill="#fcc5c5"/><rect x="574.30" y="520.50" width="0.45" height="62.70" fill="#a98b8e"/><rect x="575.27" y="512.01" width="1.2" height="71.19" fill="#fcc5c5"/><rect x="576.47" y="512.01" width="0.45" height="71.19" fill="#a98b8e"/><rect x="577.45" y="504.72" width="1.2" height="78.48" fill="#fcc5c5"/><rect x="578.65" y="504.72" width="0.45" height="78.48" fill="#a98b8e"/><rect x="579.62" y="494.00" width="1.2" height="89.20" fill="#fcc5c5"/><rect x="580.82" y="494.00" width="0.45" height="89.20" fill="#a98b8e"/><rect x="581.80" y="484.76" width="1.2" height="98.44" fill="#fcc5c5"/><rect x="583.00" y="484.76" width="0.45" height="98.44" fill="#a98b8e"/><rect x="583.97" y="477.88" width="1.2" height="105.32" fill="#fcc5c5"/><rect x="585.17" y="477.88" width="0.45" height="105.32" fill="#a98b8e"/><rect x="586.15" y="474.10" width="1.2" height="109.10" fill="#fcc5c5"/><rect x="587.35" y="474.10" width="0.45" height="109.10" fill="#a98b8e"/><rect x="588.32" y="469.99" width="1.2" height="113.21" fill="#fcc5c5"/><rect x="589.52" y="469.99" width="0.45" height="113.21" fill="#a98b8e"/><rect x="590.50" y="459.66" width="1.2" height="123.54" fill="#fcc5c5"/><rect x="591.70" y="459.66" width="0.45" height="123.54" fill="#a98b8e"/><rect x="592.67" y="444.50" width="1.2" height="138.70" fill="#fcc5c5"/><rect x="593.87" y="444.50" width="0.45" height="138.70" fill="#a98b8e"/><rect x="594.85" y="431.98" width="1.2" height="151.22" fill="#fcc5c5"/><rect x="596.05" y="431.98" width="0.45" height="151.22" fill="#a98b8e"/><rect x="597.02" y="421.56" width="1.2" height="161.64" fill="#fcc5c5"/><rect x="598.22" y="421.56" width="0.45" height="161.64" fill="#a98b8e"/><rect x="599.20" y="413.64" width="1.2" height="169.56" fill="#fcc5c5"/><rect x="600.40" y="413.64" width="0.45" height="169.56" fill="#a98b8e"/><rect x="601.37" y="408.49" width="1.2" height="174.71" fill="#fcc5c5"/><rect x="602.57" y="408.49" width="0.45" height="174.71" fill="#a98b8e"/><rect x="603.55" y="400.59" width="1.2" height="182.61" fill="#fcc5c5"/><rect x="604.75" y="400.59" width="0.45" height="182.61" fill="#a98b8e"/><rect x="605.73" y="390.66" width="1.2" height="192.54" fill="#fcc5c5"/><rect x="606.93" y="390.66" width="0.45" height="192.54" fill="#a98b8e"/><rect x="607.90" y="379.82" width="1.2" height="203.38" fill="#fcc5c5"/><rect x="609.10" y="379.82" width="0.45" height="203.38" fill="#a98b8e"/><rect x="610.08" y="371.11" width="1.2" height="212.09" fill="#fcc5c5"/><rect x="611.28" y="371.11" width="0.45" height="212.09" fill="#a98b8e"/><rect x="612.25" y="362.99" width="1.2" height="220.21" fill="#fcc5c5"/><rect x="613.45" y="362.99" width="0.45" height="220.21" fill="#a98b8e"/><rect x="614.43" y="354.24" width="1.2" height="228.96" fill="#fcc5c5"/><rect x="615.63" y="354.24" width="0.45" height="228.96" fill="#a98b8e"/><rect x="616.60" y="349.16" width="1.2" height="234.04" fill="#fcc5c5"/><rect x="617.80" y="349.16" width="0.45" height="234.04" fill="#a98b8e"/><rect x="618.78" y="342.86" width="1.2" height="240.34" fill="#fcc5c5"/><rect x="619.98" y="342.86" width="0.45" height="240.34" fill="#a98b8e"/><rect x="620.95" y="334.33" width="1.2" height="248.87" fill="#fcc5c5"/><rect x="622.15" y="334.33" width="0.45" height="248.87" fill="#a98b8e"/><rect x="623.13" y="338.54" width="1.2" height="244.66" fill="#fcc5c5"/><rect x="624.33" y="338.54" width="0.45" height="244.66" fill="#a98b8e"/><rect x="625.30" y="337.58" width="1.2" height="245.62" fill="#fcc5c5"/><rect x="626.50" y="337.58" width="0.45" height="245.62" fill="#a98b8e"/><rect x="627.48" y="329.52" width="1.2" height="253.68" fill="#fcc5c5"/><rect x="628.68" y="329.52" width="0.45" height="253.68" fill="#a98b8e"/><rect x="629.65" y="322.94" width="1.2" height="260.26" fill="#fcc5c5"/><rect x="630.85" y="322.94" width="0.45" height="260.26" fill="#a98b8e"/><rect x="631.83" y="320.80" width="1.2" height="262.40" fill="#fcc5c5"/><rect x="633.03" y="320.80" width="0.45" height="262.40" fill="#a98b8e"/><rect x="634.00" y="320.46" width="1.2" height="262.74" fill="#fcc5c5"/><rect x="635.20" y="320.46" width="0.45" height="262.74" fill="#a98b8e"/><rect x="636.18" y="319.44" width="1.2" height="263.76" fill="#fcc5c5"/><rect x="637.38" y="319.44" width="0.45" height="263.76" fill="#a98b8e"/><rect x="638.35" y="318.07" width="1.2" height="265.13" fill="#fcc5c5"/><rect x="639.55" y="318.07" width="0.45" height="265.13" fill="#a98b8e"/><rect x="640.53" y="316.77" width="1.2" height="266.43" fill="#fcc5c5"/><rect x="641.73" y="316.77" width="0.45" height="266.43" fill="#a98b8e"/><rect x="642.71" y="314.59" width="1.2" height="268.61" fill="#fcc5c5"/><rect x="643.91" y="314.59" width="0.45" height="268.61" fill="#a98b8e"/><rect x="644.88" y="327.77" width="1.2" height="255.43" fill="#fcc5c5"/><rect x="646.08" y="327.77" width="0.45" height="255.43" fill="#a98b8e"/><rect x="647.06" y="341.78" width="1.2" height="241.42" fill="#fcc5c5"/><rect x="648.26" y="341.78" width="0.45" height="241.42" fill="#a98b8e"/><rect x="649.23" y="346.99" width="1.2" height="236.21" fill="#fcc5c5"/><rect x="650.43" y="346.99" width="0.45" height="236.21" fill="#a98b8e"/><rect x="651.41" y="353.75" width="1.2" height="229.45" fill="#fcc5c5"/><rect x="652.61" y="353.75" width="0.45" height="229.45" fill="#a98b8e"/><rect x="653.58" y="364.46" width="1.2" height="218.74" fill="#fcc5c5"/><rect x="654.78" y="364.46" width="0.45" height="218.74" fill="#a98b8e"/><rect x="655.76" y="372.34" width="1.2" height="210.86" fill="#fcc5c5"/><rect x="656.96" y="372.34" width="0.45" height="210.86" fill="#a98b8e"/><rect x="657.93" y="379.92" width="1.2" height="203.28" fill="#fcc5c5"/><rect x="659.13" y="379.92" width="0.45" height="203.28" fill="#a98b8e"/><rect x="660.11" y="385.77" width="1.2" height="197.43" fill="#fcc5c5"/><rect x="661.31" y="385.77" width="0.45" height="197.43" fill="#a98b8e"/><rect x="662.28" y="391.83" width="1.2" height="191.37" fill="#fcc5c5"/><rect x="663.48" y="391.83" width="0.45" height="191.37" fill="#a98b8e"/><rect x="664.46" y="404.06" width="1.2" height="179.14" fill="#fcc5c5"/><rect x="665.66" y="404.06" width="0.45" height="179.14" fill="#a98b8e"/><rect x="666.63" y="419.34" width="1.2" height="163.86" fill="#fcc5c5"/><rect x="667.83" y="419.34" width="0.45" height="163.86" fill="#a98b8e"/><rect x="668.81" y="428.10" width="1.2" height="155.10" fill="#fcc5c5"/><rect x="670.01" y="428.10" width="0.45" height="155.10" fill="#a98b8e"/><rect x="670.98" y="434.96" width="1.2" height="148.24" fill="#fcc5c5"/><rect x="672.18" y="434.96" width="0.45" height="148.24" fill="#a98b8e"/><rect x="673.16" y="439.90" width="1.2" height="143.30" fill="#fcc5c5"/><rect x="674.36" y="439.90" width="0.45" height="143.30" fill="#a98b8e"/><rect x="675.33" y="442.06" width="1.2" height="141.14" fill="#fcc5c5"/><rect x="676.53" y="442.06" width="0.45" height="141.14" fill="#a98b8e"/><rect x="677.51" y="444.09" width="1.2" height="139.11" fill="#fcc5c5"/><rect x="678.71" y="444.09" width="0.45" height="139.11" fill="#a98b8e"/><rect x="679.69" y="449.60" width="1.2" height="133.60" fill="#fcc5c5"/><rect x="680.89" y="449.60" width="0.45" height="133.60" fill="#a98b8e"/><rect x="681.86" y="454.67" width="1.2" height="128.53" fill="#fcc5c5"/><rect x="683.06" y="454.67" width="0.45" height="128.53" fill="#a98b8e"/><rect x="684.04" y="460.33" width="1.2" height="122.87" fill="#fcc5c5"/><rect x="685.24" y="460.33" width="0.45" height="122.87" fill="#a98b8e"/><rect x="686.21" y="466.92" width="1.2" height="116.28" fill="#fcc5c5"/><rect x="687.41" y="466.92" width="0.45" height="116.28" fill="#a98b8e"/><rect x="688.39" y="470.76" width="1.2" height="112.44" fill="#fcc5c5"/><rect x="689.59" y="470.76" width="0.45" height="112.44" fill="#a98b8e"/><rect x="690.56" y="473.63" width="1.2" height="109.57" fill="#fcc5c5"/><rect x="691.76" y="473.63" width="0.45" height="109.57" fill="#a98b8e"/><rect x="692.74" y="478.04" width="1.2" height="105.16" fill="#fcc5c5"/><rect x="693.94" y="478.04" width="0.45" height="105.16" fill="#a98b8e"/><rect x="694.91" y="482.97" width="1.2" height="100.23" fill="#fcc5c5"/><rect x="696.11" y="482.97" width="0.45" height="100.23" fill="#a98b8e"/><rect x="697.09" y="488.77" width="1.2" height="94.43" fill="#fcc5c5"/><rect x="698.29" y="488.77" width="0.45" height="94.43" fill="#a98b8e"/><rect x="699.26" y="490.79" width="1.2" height="92.41" fill="#fcc5c5"/><rect x="700.46" y="490.79" width="0.45" height="92.41" fill="#a98b8e"/><rect x="701.44" y="491.33" width="1.2" height="91.87" fill="#fcc5c5"/><rect x="702.64" y="491.33" width="0.45" height="91.87" fill="#a98b8e"/><rect x="703.61" y="492.44" width="1.2" height="90.76" fill="#fcc5c5"/><rect x="704.81" y="492.44" width="0.45" height="90.76" fill="#a98b8e"/><rect x="705.79" y="494.08" width="1.2" height="89.12" fill="#fcc5c5"/><rect x="706.99" y="494.08" width="0.45" height="89.12" fill="#a98b8e"/><rect x="707.96" y="495.86" width="1.2" height="87.34" fill="#fcc5c5"/><rect x="709.16" y="495.86" width="0.45" height="87.34" fill="#a98b8e"/><rect x="710.14" y="498.04" width="1.2" height="85.16" fill="#fcc5c5"/><rect x="711.34" y="498.04" width="0.45" height="85.16" fill="#a98b8e"/><rect x="712.31" y="500.10" width="1.2" height="83.10" fill="#fcc5c5"/><rect x="713.51" y="500.10" width="0.45" height="83.10" fill="#a98b8e"/><rect x="714.49" y="500.10" width="1.2" height="83.10" fill="#fcc5c5"/><rect x="715.69" y="500.10" width="0.45" height="83.10" fill="#a98b8e"/><rect x="716.67" y="500.10" width="1.2" height="83.10" fill="#fcc5c5"/><rect x="717.87" y="500.10" width="0.45" height="83.10" fill="#a98b8e"/><rect x="718.84" y="500.10" width="1.2" height="83.10" fill="#fcc5c5"/><rect x="720.04" y="500.10" width="0.45" height="83.10" fill="#a98b8e"/><rect x="721.02" y="500.10" width="1.2" height="83.10" fill="#fcc5c5"/><rect x="722.22" y="500.10" width="0.45" height="83.10" fill="#a98b8e"/><rect x="723.19" y="500.10" width="1.2" height="83.10" fill="#fcc5c5"/><rect x="724.39" y="500.10" width="0.45" height="83.10" fill="#a98b8e"/><rect x="725.37" y="499.03" width="1.2" height="84.17" fill="#fcc5c5"/><rect x="726.57" y="499.03" width="0.45" height="84.17" fill="#a98b8e"/><rect x="727.54" y="496.86" width="1.2" height="86.34" fill="#fcc5c5"/><rect x="728.74" y="496.86" width="0.45" height="86.34" fill="#a98b8e"/><rect x="729.72" y="495.16" width="1.2" height="88.04" fill="#fcc5c5"/><rect x="730.92" y="495.16" width="0.45" height="88.04" fill="#a98b8e"/><rect x="731.89" y="493.55" width="1.2" height="89.65" fill="#fcc5c5"/><rect x="733.09" y="493.55" width="0.45" height="89.65" fill="#a98b8e"/><rect x="734.07" y="492.01" width="1.2" height="91.19" fill="#fcc5c5"/><rect x="735.27" y="492.01" width="0.45" height="91.19" fill="#a98b8e"/><rect x="736.24" y="490.55" width="1.2" height="92.65" fill="#fcc5c5"/><rect x="737.44" y="490.55" width="0.45" height="92.65" fill="#a98b8e"/><rect x="738.42" y="489.09" width="1.2" height="94.11" fill="#fcc5c5"/><rect x="739.62" y="489.09" width="0.45" height="94.11" fill="#a98b8e"/><rect x="740.59" y="487.95" width="1.2" height="95.25" fill="#fcc5c5"/><rect x="741.79" y="487.95" width="0.45" height="95.25" fill="#a98b8e"/><rect x="742.77" y="486.87" width="1.2" height="96.33" fill="#fcc5c5"/><rect x="743.97" y="486.87" width="0.45" height="96.33" fill="#a98b8e"/><rect x="744.94" y="485.78" width="1.2" height="97.42" fill="#fcc5c5"/><rect x="746.14" y="485.78" width="0.45" height="97.42" fill="#a98b8e"/><rect x="747.12" y="484.69" width="1.2" height="98.51" fill="#fcc5c5"/><rect x="748.32" y="484.69" width="0.45" height="98.51" fill="#a98b8e"/><rect x="749.29" y="483.60" width="1.2" height="99.60" fill="#fcc5c5"/><rect x="750.49" y="483.60" width="0.45" height="99.60" fill="#a98b8e"/><rect x="751.47" y="482.31" width="1.2" height="100.89" fill="#fcc5c5"/><rect x="752.67" y="482.31" width="0.45" height="100.89" fill="#a98b8e"/><rect x="753.65" y="480.85" width="1.2" height="102.35" fill="#fcc5c5"/><rect x="754.85" y="480.85" width="0.45" height="102.35" fill="#a98b8e"/><rect x="755.82" y="479.39" width="1.2" height="103.81" fill="#fcc5c5"/><rect x="757.02" y="479.39" width="0.45" height="103.81" fill="#a98b8e"/><rect x="758.00" y="478.25" width="1.2" height="104.95" fill="#fcc5c5"/><rect x="759.20" y="478.25" width="0.45" height="104.95" fill="#a98b8e"/><rect x="760.17" y="477.16" width="1.2" height="106.04" fill="#fcc5c5"/><rect x="761.37" y="477.16" width="0.45" height="106.04" fill="#a98b8e"/><rect x="762.35" y="476.25" width="1.2" height="106.95" fill="#fcc5c5"/><rect x="763.55" y="476.25" width="0.45" height="106.95" fill="#a98b8e"/><rect x="764.52" y="475.99" width="1.2" height="107.21" fill="#fcc5c5"/><rect x="765.72" y="475.99" width="0.45" height="107.21" fill="#a98b8e"/><rect x="766.70" y="475.74" width="1.2" height="107.46" fill="#fcc5c5"/><rect x="767.90" y="475.74" width="0.45" height="107.46" fill="#a98b8e"/><rect x="768.87" y="475.49" width="1.2" height="107.71" fill="#fcc5c5"/><rect x="770.07" y="475.49" width="0.45" height="107.71" fill="#a98b8e"/><rect x="771.05" y="474.66" width="1.2" height="108.54" fill="#fcc5c5"/><rect x="772.25" y="474.66" width="0.45" height="108.54" fill="#a98b8e"/><rect x="773.22" y="473.54" width="1.2" height="109.66" fill="#fcc5c5"/><rect x="774.42" y="473.54" width="0.45" height="109.66" fill="#a98b8e"/><rect x="775.40" y="469.47" width="1.2" height="113.73" fill="#fcc5c5"/><rect x="776.60" y="469.47" width="0.45" height="113.73" fill="#a98b8e"/><rect x="777.57" y="466.33" width="1.2" height="116.87" fill="#fcc5c5"/><rect x="778.77" y="466.33" width="0.45" height="116.87" fill="#a98b8e"/><rect x="779.75" y="464.61" width="1.2" height="118.59" fill="#fcc5c5"/><rect x="780.95" y="464.61" width="0.45" height="118.59" fill="#a98b8e"/><rect x="781.92" y="464.28" width="1.2" height="118.92" fill="#fcc5c5"/><rect x="783.12" y="464.28" width="0.45" height="118.92" fill="#a98b8e"/><rect x="784.10" y="463.94" width="1.2" height="119.26" fill="#fcc5c5"/><rect x="785.30" y="463.94" width="0.45" height="119.26" fill="#a98b8e"/><rect x="786.27" y="461.90" width="1.2" height="121.30" fill="#fcc5c5"/><rect x="787.47" y="461.90" width="0.45" height="121.30" fill="#a98b8e"/><rect x="788.45" y="458.67" width="1.2" height="124.53" fill="#fcc5c5"/><rect x="789.65" y="458.67" width="0.45" height="124.53" fill="#a98b8e"/><rect x="790.63" y="456.27" width="1.2" height="126.93" fill="#fcc5c5"/><rect x="791.83" y="456.27" width="0.45" height="126.93" fill="#a98b8e"/><rect x="792.80" y="454.36" width="1.2" height="128.84" fill="#fcc5c5"/><rect x="794.00" y="454.36" width="0.45" height="128.84" fill="#a98b8e"/><rect x="794.98" y="452.74" width="1.2" height="130.46" fill="#fcc5c5"/><rect x="796.18" y="452.74" width="0.45" height="130.46" fill="#a98b8e"/><rect x="797.15" y="450.75" width="1.2" height="132.45" fill="#fcc5c5"/><rect x="798.35" y="450.75" width="0.45" height="132.45" fill="#a98b8e"/><rect x="799.33" y="447.54" width="1.2" height="135.66" fill="#fcc5c5"/><rect x="800.53" y="447.54" width="0.45" height="135.66" fill="#a98b8e"/><rect x="801.50" y="442.36" width="1.2" height="140.84" fill="#fcc5c5"/><rect x="802.70" y="442.36" width="0.45" height="140.84" fill="#a98b8e"/><rect x="803.68" y="439.44" width="1.2" height="143.76" fill="#fcc5c5"/><rect x="804.88" y="439.44" width="0.45" height="143.76" fill="#a98b8e"/><rect x="805.85" y="435.55" width="1.2" height="147.65" fill="#fcc5c5"/><rect x="807.05" y="435.55" width="0.45" height="147.65" fill="#a98b8e"/><rect x="808.03" y="430.67" width="1.2" height="152.53" fill="#fcc5c5"/><rect x="809.23" y="430.67" width="0.45" height="152.53" fill="#a98b8e"/><rect x="810.20" y="424.95" width="1.2" height="158.25" fill="#fcc5c5"/><rect x="811.40" y="424.95" width="0.45" height="158.25" fill="#a98b8e"/><rect x="812.38" y="421.71" width="1.2" height="161.49" fill="#fcc5c5"/><rect x="813.58" y="421.71" width="0.45" height="161.49" fill="#a98b8e"/><rect x="814.55" y="418.19" width="1.2" height="165.01" fill="#fcc5c5"/><rect x="815.75" y="418.19" width="0.45" height="165.01" fill="#a98b8e"/><rect x="816.73" y="413.84" width="1.2" height="169.36" fill="#fcc5c5"/><rect x="817.93" y="413.84" width="0.45" height="169.36" fill="#a98b8e"/><rect x="818.90" y="408.46" width="1.2" height="174.74" fill="#fcc5c5"/><rect x="820.10" y="408.46" width="0.45" height="174.74" fill="#a98b8e"/><rect x="821.08" y="403.58" width="1.2" height="179.62" fill="#fcc5c5"/><rect x="822.28" y="403.58" width="0.45" height="179.62" fill="#a98b8e"/><rect x="823.25" y="399.10" width="1.2" height="184.10" fill="#fcc5c5"/><rect x="824.46" y="399.10" width="0.45" height="184.10" fill="#a98b8e"/><rect x="825.43" y="394.88" width="1.2" height="188.32" fill="#fcc5c5"/><rect x="826.63" y="394.88" width="0.45" height="188.32" fill="#a98b8e"/><rect x="827.61" y="393.76" width="1.2" height="189.44" fill="#fcc5c5"/><rect x="828.81" y="393.76" width="0.45" height="189.44" fill="#a98b8e"/><rect x="829.78" y="391.75" width="1.2" height="191.45" fill="#fcc5c5"/><rect x="830.98" y="391.75" width="0.45" height="191.45" fill="#a98b8e"/><rect x="831.96" y="388.94" width="1.2" height="194.26" fill="#fcc5c5"/><rect x="833.16" y="388.94" width="0.45" height="194.26" fill="#a98b8e"/><rect x="834.13" y="386.77" width="1.2" height="196.43" fill="#fcc5c5"/><rect x="835.33" y="386.77" width="0.45" height="196.43" fill="#a98b8e"/><rect x="836.31" y="385.80" width="1.2" height="197.40" fill="#fcc5c5"/><rect x="837.51" y="385.80" width="0.45" height="197.40" fill="#a98b8e"/><rect x="838.48" y="385.07" width="1.2" height="198.13" fill="#fcc5c5"/><rect x="839.68" y="385.07" width="0.45" height="198.13" fill="#a98b8e"/><rect x="840.66" y="384.39" width="1.2" height="198.81" fill="#fcc5c5"/><rect x="841.86" y="384.39" width="0.45" height="198.81" fill="#a98b8e"/><rect x="842.83" y="384.00" width="1.2" height="199.20" fill="#fcc5c5"/><rect x="844.03" y="384.00" width="0.45" height="199.20" fill="#a98b8e"/><rect x="845.01" y="384.33" width="1.2" height="198.87" fill="#fcc5c5"/><rect x="846.21" y="384.33" width="0.45" height="198.87" fill="#a98b8e"/><rect x="847.18" y="385.04" width="1.2" height="198.16" fill="#fcc5c5"/><rect x="848.38" y="385.04" width="0.45" height="198.16" fill="#a98b8e"/><rect x="849.36" y="386.13" width="1.2" height="197.07" fill="#fcc5c5"/><rect x="850.56" y="386.13" width="0.45" height="197.07" fill="#a98b8e"/><rect x="851.53" y="387.45" width="1.2" height="195.75" fill="#fcc5c5"/><rect x="852.73" y="387.45" width="0.45" height="195.75" fill="#a98b8e"/><rect x="853.71" y="388.84" width="1.2" height="194.36" fill="#fcc5c5"/><rect x="854.91" y="388.84" width="0.45" height="194.36" fill="#a98b8e"/><rect x="855.88" y="390.66" width="1.2" height="192.54" fill="#fcc5c5"/><rect x="857.08" y="390.66" width="0.45" height="192.54" fill="#a98b8e"/><rect x="858.06" y="392.39" width="1.2" height="190.81" fill="#fcc5c5"/><rect x="859.26" y="392.39" width="0.45" height="190.81" fill="#a98b8e"/><rect x="860.24" y="393.53" width="1.2" height="189.67" fill="#fcc5c5"/><rect x="861.44" y="393.53" width="0.45" height="189.67" fill="#a98b8e"/><rect x="862.41" y="394.88" width="1.2" height="188.32" fill="#fcc5c5"/><rect x="863.61" y="394.88" width="0.45" height="188.32" fill="#a98b8e"/><rect x="864.59" y="396.49" width="1.2" height="186.71" fill="#fcc5c5"/><rect x="865.79" y="396.49" width="0.45" height="186.71" fill="#a98b8e"/><rect x="866.76" y="399.82" width="1.2" height="183.38" fill="#fcc5c5"/><rect x="867.96" y="399.82" width="0.45" height="183.38" fill="#a98b8e"/><rect x="868.94" y="403.73" width="1.2" height="179.47" fill="#fcc5c5"/><rect x="870.14" y="403.73" width="0.45" height="179.47" fill="#a98b8e"/><rect x="871.11" y="406.58" width="1.2" height="176.62" fill="#fcc5c5"/><rect x="872.31" y="406.58" width="0.45" height="176.62" fill="#a98b8e"/><rect x="873.29" y="410.43" width="1.2" height="172.77" fill="#fcc5c5"/><rect x="874.49" y="410.43" width="0.45" height="172.77" fill="#a98b8e"/><rect x="875.46" y="414.57" width="1.2" height="168.63" fill="#fcc5c5"/><rect x="876.66" y="414.57" width="0.45" height="168.63" fill="#a98b8e"/><rect x="877.64" y="419.59" width="1.2" height="163.61" fill="#fcc5c5"/><rect x="878.84" y="419.59" width="0.45" height="163.61" fill="#a98b8e"/><rect x="879.81" y="422.60" width="1.2" height="160.60" fill="#fcc5c5"/><rect x="881.01" y="422.60" width="0.45" height="160.60" fill="#a98b8e"/><rect x="881.99" y="425.61" width="1.2" height="157.59" fill="#fcc5c5"/><rect x="883.19" y="425.61" width="0.45" height="157.59" fill="#a98b8e"/><rect x="884.16" y="431.52" width="1.2" height="151.68" fill="#fcc5c5"/><rect x="885.36" y="431.52" width="0.45" height="151.68" fill="#a98b8e"/><rect x="886.34" y="436.76" width="1.2" height="146.44" fill="#fcc5c5"/><rect x="887.54" y="436.76" width="0.45" height="146.44" fill="#a98b8e"/><rect x="888.51" y="440.36" width="1.2" height="142.84" fill="#fcc5c5"/><rect x="889.71" y="440.36" width="0.45" height="142.84" fill="#a98b8e"/><rect x="890.69" y="442.09" width="1.2" height="141.11" fill="#fcc5c5"/><rect x="891.89" y="442.09" width="0.45" height="141.11" fill="#a98b8e"/><rect x="892.86" y="443.75" width="1.2" height="139.45" fill="#fcc5c5"/><rect x="894.06" y="443.75" width="0.45" height="139.45" fill="#a98b8e"/><rect x="895.04" y="445.36" width="1.2" height="137.84" fill="#fcc5c5"/><rect x="896.24" y="445.36" width="0.45" height="137.84" fill="#a98b8e"/><rect x="897.22" y="447.24" width="1.2" height="135.96" fill="#fcc5c5"/><rect x="898.42" y="447.24" width="0.45" height="135.96" fill="#a98b8e"/><rect x="899.39" y="449.47" width="1.2" height="133.73" fill="#fcc5c5"/><rect x="900.59" y="449.47" width="0.45" height="133.73" fill="#a98b8e"/><rect x="901.57" y="451.98" width="1.2" height="131.22" fill="#fcc5c5"/><rect x="902.77" y="451.98" width="0.45" height="131.22" fill="#a98b8e"/><rect x="903.74" y="454.63" width="1.2" height="128.57" fill="#fcc5c5"/><rect x="904.94" y="454.63" width="0.45" height="128.57" fill="#a98b8e"/><rect x="905.92" y="456.83" width="1.2" height="126.37" fill="#fcc5c5"/><rect x="907.12" y="456.83" width="0.45" height="126.37" fill="#a98b8e"/><rect x="908.09" y="458.15" width="1.2" height="125.05" fill="#fcc5c5"/><rect x="909.29" y="458.15" width="0.45" height="125.05" fill="#a98b8e"/><rect x="910.27" y="459.50" width="1.2" height="123.70" fill="#fcc5c5"/><rect x="911.47" y="459.50" width="0.45" height="123.70" fill="#a98b8e"/><rect x="912.44" y="461.12" width="1.2" height="122.08" fill="#fcc5c5"/><rect x="913.64" y="461.12" width="0.45" height="122.08" fill="#a98b8e"/><rect x="914.62" y="462.20" width="1.2" height="121.00" fill="#fcc5c5"/><rect x="915.82" y="462.20" width="0.45" height="121.00" fill="#a98b8e"/><rect x="916.79" y="462.20" width="1.2" height="121.00" fill="#fcc5c5"/><rect x="917.99" y="462.20" width="0.45" height="121.00" fill="#a98b8e"/><rect x="918.97" y="463.47" width="1.2" height="119.73" fill="#fcc5c5"/><rect x="920.17" y="463.47" width="0.45" height="119.73" fill="#a98b8e"/><rect x="921.14" y="465.64" width="1.2" height="117.56" fill="#fcc5c5"/><rect x="922.34" y="465.64" width="0.45" height="117.56" fill="#a98b8e"/><rect x="923.32" y="465.51" width="1.2" height="117.69" fill="#fcc5c5"/><rect x="924.52" y="465.51" width="0.45" height="117.69" fill="#a98b8e"/><rect x="925.49" y="467.09" width="1.2" height="116.11" fill="#fcc5c5"/><rect x="926.69" y="467.09" width="0.45" height="116.11" fill="#a98b8e"/><rect x="927.67" y="471.04" width="1.2" height="112.16" fill="#fcc5c5"/><rect x="928.87" y="471.04" width="0.45" height="112.16" fill="#a98b8e"/><rect x="929.84" y="472.15" width="1.2" height="111.05" fill="#fcc5c5"/><rect x="931.04" y="472.15" width="0.45" height="111.05" fill="#a98b8e"/><rect x="932.02" y="473.81" width="1.2" height="109.39" fill="#fcc5c5"/><rect x="933.22" y="473.81" width="0.45" height="109.39" fill="#a98b8e"/><rect x="934.20" y="476.56" width="1.2" height="106.64" fill="#fcc5c5"/><rect x="935.40" y="476.56" width="0.45" height="106.64" fill="#a98b8e"/><rect x="936.37" y="478.20" width="1.2" height="105.00" fill="#fcc5c5"/><rect x="937.57" y="478.20" width="0.45" height="105.00" fill="#a98b8e"/><rect x="938.55" y="479.06" width="1.2" height="104.14" fill="#fcc5c5"/><rect x="939.75" y="479.06" width="0.45" height="104.14" fill="#a98b8e"/><rect x="940.72" y="480.21" width="1.2" height="102.99" fill="#fcc5c5"/><rect x="941.92" y="480.21" width="0.45" height="102.99" fill="#a98b8e"/><rect x="942.90" y="481.83" width="1.2" height="101.37" fill="#fcc5c5"/><rect x="944.10" y="481.83" width="0.45" height="101.37" fill="#a98b8e"/><rect x="945.07" y="484.07" width="1.2" height="99.13" fill="#fcc5c5"/><rect x="946.27" y="484.07" width="0.45" height="99.13" fill="#a98b8e"/><rect x="947.25" y="486.74" width="1.2" height="96.46" fill="#fcc5c5"/><rect x="948.45" y="486.74" width="0.45" height="96.46" fill="#a98b8e"/><rect x="949.42" y="489.07" width="1.2" height="94.13" fill="#fcc5c5"/><rect x="950.62" y="489.07" width="0.45" height="94.13" fill="#a98b8e"/><rect x="951.60" y="491.27" width="1.2" height="91.93" fill="#fcc5c5"/><rect x="952.80" y="491.27" width="0.45" height="91.93" fill="#a98b8e"/><rect x="953.77" y="492.89" width="1.2" height="90.31" fill="#fcc5c5"/><rect x="954.97" y="492.89" width="0.45" height="90.31" fill="#a98b8e"/><rect x="955.95" y="494.65" width="1.2" height="88.55" fill="#fcc5c5"/><rect x="957.15" y="494.65" width="0.45" height="88.55" fill="#a98b8e"/><rect x="958.12" y="496.82" width="1.2" height="86.38" fill="#fcc5c5"/><rect x="959.32" y="496.82" width="0.45" height="86.38" fill="#a98b8e"/><rect x="960.30" y="499.00" width="1.2" height="84.20" fill="#fcc5c5"/><rect x="961.50" y="499.00" width="0.45" height="84.20" fill="#a98b8e"/><rect x="962.47" y="501.17" width="1.2" height="82.03" fill="#fcc5c5"/><rect x="963.67" y="501.17" width="0.45" height="82.03" fill="#a98b8e"/><rect x="964.65" y="502.95" width="1.2" height="80.25" fill="#fcc5c5"/><rect x="965.85" y="502.95" width="0.45" height="80.25" fill="#a98b8e"/><rect x="966.82" y="504.57" width="1.2" height="78.63" fill="#fcc5c5"/><rect x="968.02" y="504.57" width="0.45" height="78.63" fill="#a98b8e"/><rect x="969.00" y="506.23" width="1.2" height="76.97" fill="#fcc5c5"/><rect x="970.20" y="506.23" width="0.45" height="76.97" fill="#a98b8e"/><rect x="971.18" y="507.98" width="1.2" height="75.22" fill="#fcc5c5"/><rect x="972.38" y="507.98" width="0.45" height="75.22" fill="#a98b8e"/><rect x="973.35" y="510.15" width="1.2" height="73.05" fill="#fcc5c5"/><rect x="974.55" y="510.15" width="0.45" height="73.05" fill="#a98b8e"/><rect x="975.53" y="510.97" width="1.2" height="72.23" fill="#fcc5c5"/><rect x="976.73" y="510.97" width="0.45" height="72.23" fill="#a98b8e"/><rect x="977.70" y="511.55" width="1.2" height="71.65" fill="#fcc5c5"/><rect x="978.90" y="511.55" width="0.45" height="71.65" fill="#a98b8e"/><rect x="979.88" y="512.64" width="1.2" height="70.56" fill="#fcc5c5"/><rect x="981.08" y="512.64" width="0.45" height="70.56" fill="#a98b8e"/><rect x="982.05" y="513.57" width="1.2" height="69.63" fill="#fcc5c5"/><rect x="983.25" y="513.57" width="0.45" height="69.63" fill="#a98b8e"/><rect x="984.23" y="514.12" width="1.2" height="69.08" fill="#fcc5c5"/><rect x="985.43" y="514.12" width="0.45" height="69.08" fill="#a98b8e"/><rect x="986.40" y="514.40" width="1.2" height="68.80" fill="#fcc5c5"/><rect x="987.60" y="514.40" width="0.45" height="68.80" fill="#a98b8e"/><rect x="988.58" y="514.40" width="1.2" height="68.80" fill="#fcc5c5"/><rect x="989.78" y="514.40" width="0.45" height="68.80" fill="#a98b8e"/><rect x="990.75" y="514.72" width="1.2" height="68.48" fill="#fcc5c5"/><rect x="991.95" y="514.72" width="0.45" height="68.48" fill="#a98b8e"/><rect x="992.93" y="515.18" width="1.2" height="68.02" fill="#fcc5c5"/><rect x="994.13" y="515.18" width="0.45" height="68.02" fill="#a98b8e"/><rect x="995.10" y="515.87" width="1.2" height="67.33" fill="#fcc5c5"/><rect x="996.30" y="515.87" width="0.45" height="67.33" fill="#a98b8e"/><rect x="997.28" y="516.80" width="1.2" height="66.40" fill="#fcc5c5"/><rect x="998.48" y="516.80" width="0.45" height="66.40" fill="#a98b8e"/><rect x="999.45" y="517.85" width="1.2" height="65.35" fill="#fcc5c5"/><rect x="1000.65" y="517.85" width="0.45" height="65.35" fill="#a98b8e"/><rect x="1001.63" y="519.14" width="1.2" height="64.06" fill="#fcc5c5"/><rect x="1002.83" y="519.14" width="0.45" height="64.06" fill="#a98b8e"/><rect x="1003.80" y="520.15" width="1.2" height="63.05" fill="#fcc5c5"/><rect x="1005.00" y="520.15" width="0.45" height="63.05" fill="#a98b8e"/><rect x="1005.98" y="520.99" width="1.2" height="62.21" fill="#fcc5c5"/><rect x="1007.18" y="520.99" width="0.45" height="62.21" fill="#a98b8e"/><rect x="1008.16" y="521.75" width="1.2" height="61.45" fill="#fcc5c5"/><rect x="1009.36" y="521.75" width="0.45" height="61.45" fill="#a98b8e"/><rect x="1010.33" y="522.51" width="1.2" height="60.69" fill="#fcc5c5"/><rect x="1011.53" y="522.51" width="0.45" height="60.69" fill="#a98b8e"/><rect x="1012.51" y="523.33" width="1.2" height="59.87" fill="#fcc5c5"/><rect x="1013.71" y="523.33" width="0.45" height="59.87" fill="#a98b8e"/><rect x="1014.68" y="522.96" width="1.2" height="60.24" fill="#fcc5c5"/><rect x="1015.88" y="522.96" width="0.45" height="60.24" fill="#a98b8e"/><rect x="1016.86" y="521.74" width="1.2" height="61.46" fill="#fcc5c5"/><rect x="1018.06" y="521.74" width="0.45" height="61.46" fill="#a98b8e"/><rect x="1019.03" y="523.85" width="1.2" height="59.35" fill="#fcc5c5"/><rect x="1020.23" y="523.85" width="0.45" height="59.35" fill="#a98b8e"/><rect x="1021.21" y="525.33" width="1.2" height="57.87" fill="#fcc5c5"/><rect x="1022.41" y="525.33" width="0.45" height="57.87" fill="#a98b8e"/><rect x="1023.38" y="526.43" width="1.2" height="56.77" fill="#fcc5c5"/><rect x="1024.58" y="526.43" width="0.45" height="56.77" fill="#a98b8e"/><rect x="1025.56" y="527.48" width="1.2" height="55.72" fill="#fcc5c5"/><rect x="1026.76" y="527.48" width="0.45" height="55.72" fill="#a98b8e"/><rect x="1027.73" y="528.39" width="1.2" height="54.81" fill="#fcc5c5"/><rect x="1028.93" y="528.39" width="0.45" height="54.81" fill="#a98b8e"/><rect x="1029.91" y="529.43" width="1.2" height="53.77" fill="#fcc5c5"/><rect x="1031.11" y="529.43" width="0.45" height="53.77" fill="#a98b8e"/><rect x="1032.08" y="530.76" width="1.2" height="52.44" fill="#fcc5c5"/><rect x="1033.28" y="530.76" width="0.45" height="52.44" fill="#a98b8e"/><rect x="1034.26" y="532.05" width="1.2" height="51.15" fill="#fcc5c5"/><rect x="1035.46" y="532.05" width="0.45" height="51.15" fill="#a98b8e"/><rect x="1036.43" y="533.33" width="1.2" height="49.87" fill="#fcc5c5"/><rect x="1037.63" y="533.33" width="0.45" height="49.87" fill="#a98b8e"/><rect x="1038.61" y="535.03" width="1.2" height="48.17" fill="#fcc5c5"/><rect x="1039.81" y="535.03" width="0.45" height="48.17" fill="#a98b8e"/><rect x="1040.79" y="536.49" width="1.2" height="46.71" fill="#fcc5c5"/><rect x="1041.99" y="536.49" width="0.45" height="46.71" fill="#a98b8e"/><rect x="1042.96" y="537.39" width="1.2" height="45.81" fill="#fcc5c5"/><rect x="1044.16" y="537.39" width="0.45" height="45.81" fill="#a98b8e"/><rect x="1045.14" y="539.41" width="1.2" height="43.79" fill="#fcc5c5"/><rect x="1046.34" y="539.41" width="0.45" height="43.79" fill="#a98b8e"/><rect x="1047.31" y="542.01" width="1.2" height="41.19" fill="#fcc5c5"/><rect x="1048.51" y="542.01" width="0.45" height="41.19" fill="#a98b8e"/><rect x="1049.49" y="543.34" width="1.2" height="39.86" fill="#fcc5c5"/><rect x="1050.69" y="543.34" width="0.45" height="39.86" fill="#a98b8e"/><rect x="1051.66" y="544.67" width="1.2" height="38.53" fill="#fcc5c5"/><rect x="1052.86" y="544.67" width="0.45" height="38.53" fill="#a98b8e"/><rect x="1053.84" y="545.99" width="1.2" height="37.21" fill="#fcc5c5"/><rect x="1055.04" y="545.99" width="0.45" height="37.21" fill="#a98b8e"/><rect x="1056.01" y="546.97" width="1.2" height="36.23" fill="#fcc5c5"/><rect x="1057.21" y="546.97" width="0.45" height="36.23" fill="#a98b8e"/><rect x="1058.19" y="547.80" width="1.2" height="35.40" fill="#fcc5c5"/><rect x="1059.39" y="547.80" width="0.45" height="35.40" fill="#a98b8e"/><rect x="1060.36" y="549.12" width="1.2" height="34.08" fill="#fcc5c5"/><rect x="1061.56" y="549.12" width="0.45" height="34.08" fill="#a98b8e"/><rect x="1062.54" y="550.29" width="1.2" height="32.91" fill="#fcc5c5"/><rect x="1063.74" y="550.29" width="0.45" height="32.91" fill="#a98b8e"/><rect x="1064.71" y="551.13" width="1.2" height="32.07" fill="#fcc5c5"/><rect x="1065.91" y="551.13" width="0.45" height="32.07" fill="#a98b8e"/><rect x="1066.89" y="552.02" width="1.2" height="31.18" fill="#fcc5c5"/><rect x="1068.09" y="552.02" width="0.45" height="31.18" fill="#a98b8e"/><rect x="1069.06" y="552.92" width="1.2" height="30.28" fill="#fcc5c5"/><rect x="1070.26" y="552.92" width="0.45" height="30.28" fill="#a98b8e"/><rect x="1071.24" y="553.75" width="1.2" height="29.45" fill="#fcc5c5"/><rect x="1072.44" y="553.75" width="0.45" height="29.45" fill="#a98b8e"/><rect x="1073.41" y="554.53" width="1.2" height="28.67" fill="#fcc5c5"/><rect x="1074.61" y="554.53" width="0.45" height="28.67" fill="#a98b8e"/><rect x="1075.59" y="555.23" width="1.2" height="27.97" fill="#fcc5c5"/><rect x="1076.79" y="555.23" width="0.45" height="27.97" fill="#a98b8e"/><rect x="1077.77" y="555.98" width="1.2" height="27.22" fill="#fcc5c5"/><rect x="1078.97" y="555.98" width="0.45" height="27.22" fill="#a98b8e"/><rect x="1079.94" y="556.99" width="1.2" height="26.21" fill="#fcc5c5"/><rect x="1081.14" y="556.99" width="0.45" height="26.21" fill="#a98b8e"/><rect x="1082.12" y="557.88" width="1.2" height="25.32" fill="#fcc5c5"/><rect x="1083.32" y="557.88" width="0.45" height="25.32" fill="#a98b8e"/><rect x="1084.29" y="558.57" width="1.2" height="24.63" fill="#fcc5c5"/><rect x="1085.49" y="558.57" width="0.45" height="24.63" fill="#a98b8e"/><rect x="1086.47" y="558.94" width="1.2" height="24.26" fill="#fcc5c5"/><rect x="1087.67" y="558.94" width="0.45" height="24.26" fill="#a98b8e"/><rect x="1088.64" y="559.57" width="1.2" height="23.63" fill="#fcc5c5"/><rect x="1089.84" y="559.57" width="0.45" height="23.63" fill="#a98b8e"/><rect x="1090.82" y="560.09" width="1.2" height="23.11" fill="#fcc5c5"/><rect x="1092.02" y="560.09" width="0.45" height="23.11" fill="#a98b8e"/><rect x="1092.99" y="560.54" width="1.2" height="22.66" fill="#fcc5c5"/><rect x="1094.19" y="560.54" width="0.45" height="22.66" fill="#a98b8e"/><rect x="1095.17" y="561.29" width="1.2" height="21.91" fill="#fcc5c5"/><rect x="1096.37" y="561.29" width="0.45" height="21.91" fill="#a98b8e"/><rect x="1097.34" y="561.97" width="1.2" height="21.23" fill="#fcc5c5"/><rect x="1098.54" y="561.97" width="0.45" height="21.23" fill="#a98b8e"/><rect x="1099.52" y="562.45" width="1.2" height="20.75" fill="#fcc5c5"/><rect x="1100.72" y="562.45" width="0.45" height="20.75" fill="#a98b8e"/><rect x="1101.69" y="562.73" width="1.2" height="20.47" fill="#fcc5c5"/><rect x="1102.89" y="562.73" width="0.45" height="20.47" fill="#a98b8e"/><rect x="1103.87" y="563.01" width="1.2" height="20.19" fill="#fcc5c5"/><rect x="1105.07" y="563.01" width="0.45" height="20.19" fill="#a98b8e"/><rect x="1106.04" y="563.29" width="1.2" height="19.91" fill="#fcc5c5"/><rect x="1107.24" y="563.29" width="0.45" height="19.91" fill="#a98b8e"/><rect x="1108.22" y="563.58" width="1.2" height="19.62" fill="#fcc5c5"/><rect x="1109.42" y="563.58" width="0.45" height="19.62" fill="#a98b8e"/><rect x="1110.39" y="563.86" width="1.2" height="19.34" fill="#fcc5c5"/><rect x="1111.59" y="563.86" width="0.45" height="19.34" fill="#a98b8e"/><rect x="1112.57" y="564.14" width="1.2" height="19.06" fill="#fcc5c5"/><rect x="1113.77" y="564.14" width="0.45" height="19.06" fill="#a98b8e"/><rect x="1114.75" y="564.40" width="1.2" height="18.80" fill="#fcc5c5"/><rect x="1115.95" y="564.40" width="0.45" height="18.80" fill="#a98b8e"/><rect x="1116.92" y="564.62" width="1.2" height="18.58" fill="#fcc5c5"/><rect x="1118.12" y="564.62" width="0.45" height="18.58" fill="#a98b8e"/><rect x="1119.10" y="564.88" width="1.2" height="18.32" fill="#fcc5c5"/><rect x="1120.30" y="564.88" width="0.45" height="18.32" fill="#a98b8e"/><rect x="1121.27" y="565.17" width="1.2" height="18.03" fill="#fcc5c5"/><rect x="1122.47" y="565.17" width="0.45" height="18.03" fill="#a98b8e"/><rect x="1123.45" y="565.70" width="1.2" height="17.50" fill="#fcc5c5"/><rect x="1124.65" y="565.70" width="0.45" height="17.50" fill="#a98b8e"/><rect x="1125.62" y="566.23" width="1.2" height="16.97" fill="#fcc5c5"/><rect x="1126.82" y="566.23" width="0.45" height="16.97" fill="#a98b8e"/><rect x="1127.80" y="566.52" width="1.2" height="16.68" fill="#fcc5c5"/><rect x="1129.00" y="566.52" width="0.45" height="16.68" fill="#a98b8e"/><rect x="1129.97" y="566.80" width="1.2" height="16.40" fill="#fcc5c5"/><rect x="1131.17" y="566.80" width="0.45" height="16.40" fill="#a98b8e"/><rect x="1132.15" y="567.08" width="1.2" height="16.12" fill="#fcc5c5"/><rect x="1133.35" y="567.08" width="0.45" height="16.12" fill="#a98b8e"/><rect x="1134.32" y="567.33" width="1.2" height="15.87" fill="#fcc5c5"/><rect x="1135.52" y="567.33" width="0.45" height="15.87" fill="#a98b8e"/><rect x="1136.50" y="567.55" width="1.2" height="15.65" fill="#fcc5c5"/><rect x="1137.70" y="567.55" width="0.45" height="15.65" fill="#a98b8e"/><rect x="1138.67" y="567.82" width="1.2" height="15.38" fill="#fcc5c5"/><rect x="1139.87" y="567.82" width="0.45" height="15.38" fill="#a98b8e"/><rect x="1140.85" y="568.11" width="1.2" height="15.09" fill="#fcc5c5"/><rect x="1142.05" y="568.11" width="0.45" height="15.09" fill="#a98b8e"/><rect x="1143.02" y="568.39" width="1.2" height="14.81" fill="#fcc5c5"/><rect x="1144.22" y="568.39" width="0.45" height="14.81" fill="#a98b8e"/><rect x="1145.20" y="568.66" width="1.2" height="14.54" fill="#fcc5c5"/><rect x="1146.40" y="568.66" width="0.45" height="14.54" fill="#a98b8e"/><rect x="1147.37" y="568.91" width="1.2" height="14.29" fill="#fcc5c5"/><rect x="1148.57" y="568.91" width="0.45" height="14.29" fill="#a98b8e"/><rect x="1149.55" y="569.10" width="1.2" height="14.10" fill="#fcc5c5"/><rect x="1150.75" y="569.10" width="0.45" height="14.10" fill="#a98b8e"/></g>
<g><rect x="83.65" y="582.87" width="1.65" height="0.33" fill="#f8bf8a" fill-opacity="0.5"/><rect x="85.83" y="582.84" width="1.65" height="0.36" fill="#f8bf8a" fill-opacity="0.5"/><rect x="88.00" y="582.81" width="1.65" height="0.39" fill="#f8bf8a" fill-opacity="0.5"/><rect x="90.18" y="582.77" width="1.65" height="0.43" fill="#f8bf8a" fill-opacity="0.5"/><rect x="92.35" y="582.74" width="1.65" height="0.46" fill="#f8bf8a" fill-opacity="0.5"/><rect x="94.53" y="582.71" width="1.65" height="0.49" fill="#f8bf8a" fill-opacity="0.5"/><rect x="96.70" y="582.44" width="1.65" height="0.76" fill="#f8bf8a" fill-opacity="0.5"/><rect x="98.88" y="582.12" width="1.65" height="1.08" fill="#f8bf8a" fill-opacity="0.5"/><rect x="101.06" y="581.79" width="1.65" height="1.41" fill="#f8bf8a" fill-opacity="0.5"/><rect x="103.23" y="581.47" width="1.65" height="1.73" fill="#f8bf8a" fill-opacity="0.5"/><rect x="105.41" y="581.15" width="1.65" height="2.05" fill="#f8bf8a" fill-opacity="0.5"/><rect x="107.58" y="580.86" width="1.65" height="2.34" fill="#f8bf8a" fill-opacity="0.5"/><rect x="109.76" y="580.57" width="1.65" height="2.63" fill="#f8bf8a" fill-opacity="0.5"/><rect x="111.93" y="580.28" width="1.65" height="2.92" fill="#f8bf8a" fill-opacity="0.5"/><rect x="114.11" y="579.99" width="1.65" height="3.21" fill="#f8bf8a" fill-opacity="0.5"/><rect x="116.28" y="579.70" width="1.65" height="3.50" fill="#f8bf8a" fill-opacity="0.5"/><rect x="118.46" y="579.41" width="1.65" height="3.79" fill="#f8bf8a" fill-opacity="0.5"/><rect x="120.63" y="579.18" width="1.65" height="4.02" fill="#f8bf8a" fill-opacity="0.5"/><rect x="122.81" y="579.13" width="1.65" height="4.07" fill="#f8bf8a" fill-opacity="0.5"/><rect x="124.98" y="579.08" width="1.65" height="4.12" fill="#f8bf8a" fill-opacity="0.5"/><rect x="127.16" y="579.02" width="1.65" height="4.18" fill="#f8bf8a" fill-opacity="0.5"/><rect x="129.33" y="578.97" width="1.65" height="4.23" fill="#f8bf8a" fill-opacity="0.5"/><rect x="131.51" y="578.91" width="1.65" height="4.29" fill="#f8bf8a" fill-opacity="0.5"/><rect x="133.68" y="578.86" width="1.65" height="4.34" fill="#f8bf8a" fill-opacity="0.5"/><rect x="135.86" y="578.80" width="1.65" height="4.40" fill="#f8bf8a" fill-opacity="0.5"/><rect x="138.04" y="578.75" width="1.65" height="4.45" fill="#f8bf8a" fill-opacity="0.5"/><rect x="140.21" y="578.71" width="1.65" height="4.49" fill="#f8bf8a" fill-opacity="0.5"/><rect x="142.39" y="578.76" width="1.65" height="4.44" fill="#f8bf8a" fill-opacity="0.5"/><rect x="144.56" y="578.81" width="1.65" height="4.39" fill="#f8bf8a" fill-opacity="0.5"/><rect x="146.74" y="578.87" width="1.65" height="4.33" fill="#f8bf8a" fill-opacity="0.5"/><rect x="148.91" y="578.92" width="1.65" height="4.28" fill="#f8bf8a" fill-opacity="0.5"/><rect x="151.09" y="578.98" width="1.65" height="4.22" fill="#f8bf8a" fill-opacity="0.5"/><rect x="153.26" y="579.03" width="1.65" height="4.17" fill="#f8bf8a" fill-opacity="0.5"/><rect x="155.44" y="579.09" width="1.65" height="4.11" fill="#f8bf8a" fill-opacity="0.5"/><rect x="157.61" y="579.14" width="1.65" height="4.06" fill="#f8bf8a" fill-opacity="0.5"/><rect x="159.79" y="579.19" width="1.65" height="4.01" fill="#f8bf8a" fill-opacity="0.5"/><rect x="161.96" y="579.30" width="1.65" height="3.90" fill="#f8bf8a" fill-opacity="0.5"/><rect x="164.14" y="579.41" width="1.65" height="3.79" fill="#f8bf8a" fill-opacity="0.5"/><rect x="166.31" y="579.52" width="1.65" height="3.68" fill="#f8bf8a" fill-opacity="0.5"/><rect x="168.49" y="579.62" width="1.65" height="3.58" fill="#f8bf8a" fill-opacity="0.5"/><rect x="170.66" y="579.73" width="1.65" height="3.47" fill="#f8bf8a" fill-opacity="0.5"/><rect x="172.84" y="579.84" width="1.65" height="3.36" fill="#f8bf8a" fill-opacity="0.5"/><rect x="175.02" y="579.95" width="1.65" height="3.25" fill="#f8bf8a" fill-opacity="0.5"/><rect x="177.19" y="580.06" width="1.65" height="3.14" fill="#f8bf8a" fill-opacity="0.5"/><rect x="179.37" y="580.17" width="1.65" height="3.03" fill="#f8bf8a" fill-opacity="0.5"/><rect x="181.54" y="580.32" width="1.65" height="2.88" fill="#f8bf8a" fill-opacity="0.5"/><rect x="183.72" y="580.48" width="1.65" height="2.72" fill="#f8bf8a" fill-opacity="0.5"/><rect x="185.89" y="580.64" width="1.65" height="2.56" fill="#f8bf8a" fill-opacity="0.5"/><rect x="188.07" y="580.81" width="1.65" height="2.39" fill="#f8bf8a" fill-opacity="0.5"/><rect x="190.24" y="580.97" width="1.65" height="2.23" fill="#f8bf8a" fill-opacity="0.5"/><rect x="192.42" y="581.13" width="1.65" height="2.07" fill="#f8bf8a" fill-opacity="0.5"/><rect x="194.59" y="581.29" width="1.65" height="1.91" fill="#f8bf8a" fill-opacity="0.5"/><rect x="196.77" y="581.46" width="1.65" height="1.74" fill="#f8bf8a" fill-opacity="0.5"/><rect x="198.94" y="581.62" width="1.65" height="1.58" fill="#f8bf8a" fill-opacity="0.5"/><rect x="201.12" y="581.74" width="1.65" height="1.46" fill="#f8bf8a" fill-opacity="0.5"/><rect x="203.29" y="581.81" width="1.65" height="1.39" fill="#f8bf8a" fill-opacity="0.5"/><rect x="205.47" y="581.88" width="1.65" height="1.32" fill="#f8bf8a" fill-opacity="0.5"/><rect x="207.65" y="581.95" width="1.65" height="1.25" fill="#f8bf8a" fill-opacity="0.5"/><rect x="209.82" y="582.03" width="1.65" height="1.17" fill="#f8bf8a" fill-opacity="0.5"/><rect x="212.00" y="582.10" width="1.65" height="1.10" fill="#f8bf8a" fill-opacity="0.5"/><rect x="214.17" y="582.17" width="1.65" height="1.03" fill="#f8bf8a" fill-opacity="0.5"/><rect x="216.35" y="582.24" width="1.65" height="0.96" fill="#f8bf8a" fill-opacity="0.5"/><rect x="218.52" y="582.32" width="1.65" height="0.88" fill="#f8bf8a" fill-opacity="0.5"/><rect x="220.70" y="582.39" width="1.65" height="0.81" fill="#f8bf8a" fill-opacity="0.5"/><rect x="222.87" y="582.46" width="1.65" height="0.74" fill="#f8bf8a" fill-opacity="0.5"/><rect x="225.05" y="582.53" width="1.65" height="0.67" fill="#f8bf8a" fill-opacity="0.5"/><rect x="227.22" y="582.61" width="1.65" height="0.59" fill="#f8bf8a" fill-opacity="0.5"/><rect x="229.40" y="582.68" width="1.65" height="0.52" fill="#f8bf8a" fill-opacity="0.5"/><rect x="231.57" y="582.73" width="1.65" height="0.47" fill="#f8bf8a" fill-opacity="0.5"/><rect x="233.75" y="582.76" width="1.65" height="0.44" fill="#f8bf8a" fill-opacity="0.5"/><rect x="235.92" y="582.80" width="1.65" height="0.40" fill="#f8bf8a" fill-opacity="0.5"/><rect x="238.10" y="582.83" width="1.65" height="0.37" fill="#f8bf8a" fill-opacity="0.5"/><rect x="240.27" y="582.87" width="1.65" height="0.33" fill="#f8bf8a" fill-opacity="0.5"/><rect x="546.99" y="582.85" width="1.65" height="0.35" fill="#f8bf8a" fill-opacity="0.5"/><rect x="549.17" y="582.74" width="1.65" height="0.46" fill="#f8bf8a" fill-opacity="0.5"/><rect x="551.34" y="582.63" width="1.65" height="0.57" fill="#f8bf8a" fill-opacity="0.5"/><rect x="553.52" y="582.52" width="1.65" height="0.68" fill="#f8bf8a" fill-opacity="0.5"/><rect x="555.69" y="582.42" width="1.65" height="0.78" fill="#f8bf8a" fill-opacity="0.5"/><rect x="557.87" y="582.31" width="1.65" height="0.89" fill="#f8bf8a" fill-opacity="0.5"/><rect x="560.04" y="582.19" width="1.65" height="1.01" fill="#f8bf8a" fill-opacity="0.5"/><rect x="562.22" y="581.76" width="1.65" height="1.44" fill="#f8bf8a" fill-opacity="0.5"/><rect x="564.39" y="581.32" width="1.65" height="1.88" fill="#f8bf8a" fill-opacity="0.5"/><rect x="566.57" y="580.89" width="1.65" height="2.31" fill="#f8bf8a" fill-opacity="0.5"/><rect x="568.74" y="580.45" width="1.65" height="2.75" fill="#f8bf8a" fill-opacity="0.5"/><rect x="570.92" y="580.02" width="1.65" height="3.18" fill="#f8bf8a" fill-opacity="0.5"/><rect x="573.10" y="579.58" width="1.65" height="3.62" fill="#f8bf8a" fill-opacity="0.5"/><rect x="575.27" y="579.15" width="1.65" height="4.05" fill="#f8bf8a" fill-opacity="0.5"/><rect x="577.45" y="578.79" width="1.65" height="4.41" fill="#f8bf8a" fill-opacity="0.5"/><rect x="579.62" y="578.43" width="1.65" height="4.77" fill="#f8bf8a" fill-opacity="0.5"/><rect x="581.80" y="578.07" width="1.65" height="5.13" fill="#f8bf8a" fill-opacity="0.5"/><rect x="583.97" y="577.70" width="1.65" height="5.50" fill="#f8bf8a" fill-opacity="0.5"/><rect x="586.15" y="577.34" width="1.65" height="5.86" fill="#f8bf8a" fill-opacity="0.5"/><rect x="588.32" y="576.98" width="1.65" height="6.22" fill="#f8bf8a" fill-opacity="0.5"/><rect x="590.50" y="576.68" width="1.65" height="6.52" fill="#f8bf8a" fill-opacity="0.5"/><rect x="592.67" y="576.61" width="1.65" height="6.59" fill="#f8bf8a" fill-opacity="0.5"/><rect x="594.85" y="576.54" width="1.65" height="6.66" fill="#f8bf8a" fill-opacity="0.5"/><rect x="597.02" y="576.47" width="1.65" height="6.73" fill="#f8bf8a" fill-opacity="0.5"/><rect x="599.20" y="576.39" width="1.65" height="6.81" fill="#f8bf8a" fill-opacity="0.5"/><rect x="601.37" y="576.32" width="1.65" height="6.88" fill="#f8bf8a" fill-opacity="0.5"/><rect x="603.55" y="576.25" width="1.65" height="6.95" fill="#f8bf8a" fill-opacity="0.5"/><rect x="605.73" y="576.18" width="1.65" height="7.02" fill="#f8bf8a" fill-opacity="0.5"/><rect x="607.90" y="576.10" width="1.65" height="7.10" fill="#f8bf8a" fill-opacity="0.5"/><rect x="610.08" y="576.03" width="1.65" height="7.17" fill="#f8bf8a" fill-opacity="0.5"/><rect x="612.25" y="575.96" width="1.65" height="7.24" fill="#f8bf8a" fill-opacity="0.5"/><rect x="614.43" y="575.89" width="1.65" height="7.31" fill="#f8bf8a" fill-opacity="0.5"/><rect x="616.60" y="575.81" width="1.65" height="7.39" fill="#f8bf8a" fill-opacity="0.5"/><rect x="618.78" y="575.74" width="1.65" height="7.46" fill="#f8bf8a" fill-opacity="0.5"/><rect x="620.95" y="575.70" width="1.65" height="7.50" fill="#f8bf8a" fill-opacity="0.5"/><rect x="623.13" y="575.70" width="1.65" height="7.50" fill="#f8bf8a" fill-opacity="0.5"/><rect x="625.30" y="575.70" width="1.65" height="7.50" fill="#f8bf8a" fill-opacity="0.5"/><rect x="627.48" y="575.70" width="1.65" height="7.50" fill="#f8bf8a" fill-opacity="0.5"/><rect x="629.65" y="575.70" width="1.65" height="7.50" fill="#f8bf8a" fill-opacity="0.5"/><rect x="631.83" y="575.70" width="1.65" height="7.50" fill="#f8bf8a" fill-opacity="0.5"/><rect x="634.00" y="575.70" width="1.65" height="7.50" fill="#f8bf8a" fill-opacity="0.5"/><rect x="636.18" y="575.70" width="1.65" height="7.50" fill="#f8bf8a" fill-opacity="0.5"/><rect x="638.35" y="575.70" width="1.65" height="7.50" fill="#f8bf8a" fill-opacity="0.5"/><rect x="640.53" y="575.70" width="1.65" height="7.50" fill="#f8bf8a" fill-opacity="0.5"/><rect x="642.71" y="575.70" width="1.65" height="7.50" fill="#f8bf8a" fill-opacity="0.5"/><rect x="644.88" y="575.70" width="1.65" height="7.50" fill="#f8bf8a" fill-opacity="0.5"/><rect x="647.06" y="575.70" width="1.65" height="7.50" fill="#f8bf8a" fill-opacity="0.5"/><rect x="649.23" y="575.70" width="1.65" height="7.50" fill="#f8bf8a" fill-opacity="0.5"/><rect x="651.41" y="575.72" width="1.65" height="7.48" fill="#f8bf8a" fill-opacity="0.5"/><rect x="653.58" y="575.76" width="1.65" height="7.44" fill="#f8bf8a" fill-opacity="0.5"/><rect x="655.76" y="575.80" width="1.65" height="7.40" fill="#f8bf8a" fill-opacity="0.5"/><rect x="657.93" y="575.83" width="1.65" height="7.37" fill="#f8bf8a" fill-opacity="0.5"/><rect x="660.11" y="575.87" width="1.65" height="7.33" fill="#f8bf8a" fill-opacity="0.5"/><rect x="662.28" y="575.90" width="1.65" height="7.30" fill="#f8bf8a" fill-opacity="0.5"/><rect x="664.46" y="575.94" width="1.65" height="7.26" fill="#f8bf8a" fill-opacity="0.5"/><rect x="666.63" y="575.98" width="1.65" height="7.22" fill="#f8bf8a" fill-opacity="0.5"/><rect x="668.81" y="576.01" width="1.65" height="7.19" fill="#f8bf8a" fill-opacity="0.5"/><rect x="670.98" y="576.05" width="1.65" height="7.15" fill="#f8bf8a" fill-opacity="0.5"/><rect x="673.16" y="576.09" width="1.65" height="7.11" fill="#f8bf8a" fill-opacity="0.5"/><rect x="675.33" y="576.12" width="1.65" height="7.08" fill="#f8bf8a" fill-opacity="0.5"/><rect x="677.51" y="576.16" width="1.65" height="7.04" fill="#f8bf8a" fill-opacity="0.5"/><rect x="679.69" y="576.19" width="1.65" height="7.01" fill="#f8bf8a" fill-opacity="0.5"/><rect x="681.86" y="576.29" width="1.65" height="6.91" fill="#f8bf8a" fill-opacity="0.5"/><rect x="684.04" y="576.40" width="1.65" height="6.80" fill="#f8bf8a" fill-opacity="0.5"/><rect x="686.21" y="576.51" width="1.65" height="6.69" fill="#f8bf8a" fill-opacity="0.5"/><rect x="688.39" y="576.62" width="1.65" height="6.58" fill="#f8bf8a" fill-opacity="0.5"/><rect x="690.56" y="576.73" width="1.65" height="6.47" fill="#f8bf8a" fill-opacity="0.5"/><rect x="692.74" y="576.84" width="1.65" height="6.36" fill="#f8bf8a" fill-opacity="0.5"/><rect x="694.91" y="576.95" width="1.65" height="6.25" fill="#f8bf8a" fill-opacity="0.5"/><rect x="697.09" y="577.05" width="1.65" height="6.15" fill="#f8bf8a" fill-opacity="0.5"/><rect x="699.26" y="577.16" width="1.65" height="6.04" fill="#f8bf8a" fill-opacity="0.5"/><rect x="701.44" y="577.22" width="1.65" height="5.98" fill="#f8bf8a" fill-opacity="0.5"/><rect x="703.61" y="577.26" width="1.65" height="5.94" fill="#f8bf8a" fill-opacity="0.5"/><rect x="705.79" y="577.30" width="1.65" height="5.90" fill="#f8bf8a" fill-opacity="0.5"/><rect x="707.96" y="577.33" width="1.65" height="5.87" fill="#f8bf8a" fill-opacity="0.5"/><rect x="710.14" y="577.37" width="1.65" height="5.83" fill="#f8bf8a" fill-opacity="0.5"/><rect x="712.31" y="577.41" width="1.65" height="5.79" fill="#f8bf8a" fill-opacity="0.5"/><rect x="714.49" y="577.44" width="1.65" height="5.76" fill="#f8bf8a" fill-opacity="0.5"/><rect x="716.67" y="577.48" width="1.65" height="5.72" fill="#f8bf8a" fill-opacity="0.5"/><rect x="718.84" y="577.51" width="1.65" height="5.69" fill="#f8bf8a" fill-opacity="0.5"/><rect x="721.02" y="577.55" width="1.65" height="5.65" fill="#f8bf8a" fill-opacity="0.5"/><rect x="723.19" y="577.59" width="1.65" height="5.61" fill="#f8bf8a" fill-opacity="0.5"/><rect x="725.37" y="577.62" width="1.65" height="5.58" fill="#f8bf8a" fill-opacity="0.5"/><rect x="727.54" y="577.66" width="1.65" height="5.54" fill="#f8bf8a" fill-opacity="0.5"/><rect x="729.72" y="577.70" width="1.65" height="5.50" fill="#f8bf8a" fill-opacity="0.5"/><rect x="731.89" y="577.67" width="1.65" height="5.53" fill="#f8bf8a" fill-opacity="0.5"/><rect x="734.07" y="577.63" width="1.65" height="5.57" fill="#f8bf8a" fill-opacity="0.5"/><rect x="736.24" y="577.60" width="1.65" height="5.60" fill="#f8bf8a" fill-opacity="0.5"/><rect x="738.42" y="577.56" width="1.65" height="5.64" fill="#f8bf8a" fill-opacity="0.5"/><rect x="740.59" y="577.52" width="1.65" height="5.68" fill="#f8bf8a" fill-opacity="0.5"/><rect x="742.77" y="577.49" width="1.65" height="5.71" fill="#f8bf8a" fill-opacity="0.5"/><rect x="744.94" y="577.45" width="1.65" height="5.75" fill="#f8bf8a" fill-opacity="0.5"/><rect x="747.12" y="577.41" width="1.65" height="5.79" fill="#f8bf8a" fill-opacity="0.5"/><rect x="749.29" y="577.38" width="1.65" height="5.82" fill="#f8bf8a" fill-opacity="0.5"/><rect x="751.47" y="577.34" width="1.65" height="5.86" fill="#f8bf8a" fill-opacity="0.5"/><rect x="753.65" y="577.31" width="1.65" height="5.89" fill="#f8bf8a" fill-opacity="0.5"/><rect x="755.82" y="577.27" width="1.65" height="5.93" fill="#f8bf8a" fill-opacity="0.5"/><rect x="758.00" y="577.23" width="1.65" height="5.97" fill="#f8bf8a" fill-opacity="0.5"/><rect x="760.17" y="577.19" width="1.65" height="6.01" fill="#f8bf8a" fill-opacity="0.5"/><rect x="762.35" y="577.04" width="1.65" height="6.16" fill="#f8bf8a" fill-opacity="0.5"/><rect x="764.52" y="576.90" width="1.65" height="6.30" fill="#f8bf8a" fill-opacity="0.5"/><rect x="766.70" y="576.75" width="1.65" height="6.45" fill="#f8bf8a" fill-opacity="0.5"/><rect x="768.87" y="576.61" width="1.65" height="6.59" fill="#f8bf8a" fill-opacity="0.5"/><rect x="771.05" y="576.46" width="1.65" height="6.74" fill="#f8bf8a" fill-opacity="0.5"/><rect x="773.22" y="576.32" width="1.65" height="6.88" fill="#f8bf8a" fill-opacity="0.5"/><rect x="775.40" y="576.17" width="1.65" height="7.03" fill="#f8bf8a" fill-opacity="0.5"/><rect x="777.57" y="576.03" width="1.65" height="7.17" fill="#f8bf8a" fill-opacity="0.5"/><rect x="779.75" y="575.88" width="1.65" height="7.32" fill="#f8bf8a" fill-opacity="0.5"/><rect x="781.92" y="575.74" width="1.65" height="7.46" fill="#f8bf8a" fill-opacity="0.5"/><rect x="784.10" y="575.59" width="1.65" height="7.61" fill="#f8bf8a" fill-opacity="0.5"/><rect x="786.27" y="575.45" width="1.65" height="7.75" fill="#f8bf8a" fill-opacity="0.5"/><rect x="788.45" y="575.30" width="1.65" height="7.90" fill="#f8bf8a" fill-opacity="0.5"/><rect x="790.63" y="575.14" width="1.65" height="8.06" fill="#f8bf8a" fill-opacity="0.5"/><rect x="792.80" y="574.92" width="1.65" height="8.28" fill="#f8bf8a" fill-opacity="0.5"/><rect x="794.98" y="574.70" width="1.65" height="8.50" fill="#f8bf8a" fill-opacity="0.5"/><rect x="797.15" y="574.48" width="1.65" height="8.72" fill="#f8bf8a" fill-opacity="0.5"/><rect x="799.33" y="574.27" width="1.65" height="8.93" fill="#f8bf8a" fill-opacity="0.5"/><rect x="801.50" y="574.05" width="1.65" height="9.15" fill="#f8bf8a" fill-opacity="0.5"/><rect x="803.68" y="573.83" width="1.65" height="9.37" fill="#f8bf8a" fill-opacity="0.5"/><rect x="805.85" y="573.61" width="1.65" height="9.59" fill="#f8bf8a" fill-opacity="0.5"/><rect x="808.03" y="573.40" width="1.65" height="9.80" fill="#f8bf8a" fill-opacity="0.5"/><rect x="810.20" y="573.19" width="1.65" height="10.01" fill="#f8bf8a" fill-opacity="0.5"/><rect x="812.38" y="573.12" width="1.65" height="10.08" fill="#f8bf8a" fill-opacity="0.5"/><rect x="814.55" y="573.05" width="1.65" height="10.15" fill="#f8bf8a" fill-opacity="0.5"/><rect x="816.73" y="572.98" width="1.65" height="10.22" fill="#f8bf8a" fill-opacity="0.5"/><rect x="818.90" y="572.90" width="1.65" height="10.30" fill="#f8bf8a" fill-opacity="0.5"/><rect x="821.08" y="572.83" width="1.65" height="10.37" fill="#f8bf8a" fill-opacity="0.5"/><rect x="823.25" y="572.76" width="1.65" height="10.44" fill="#f8bf8a" fill-opacity="0.5"/><rect x="825.43" y="572.69" width="1.65" height="10.51" fill="#f8bf8a" fill-opacity="0.5"/><rect x="827.61" y="572.61" width="1.65" height="10.59" fill="#f8bf8a" fill-opacity="0.5"/><rect x="829.78" y="572.54" width="1.65" height="10.66" fill="#f8bf8a" fill-opacity="0.5"/><rect x="831.96" y="572.47" width="1.65" height="10.73" fill="#f8bf8a" fill-opacity="0.5"/><rect x="834.13" y="572.40" width="1.65" height="10.80" fill="#f8bf8a" fill-opacity="0.5"/><rect x="836.31" y="572.32" width="1.65" height="10.88" fill="#f8bf8a" fill-opacity="0.5"/><rect x="838.48" y="572.25" width="1.65" height="10.95" fill="#f8bf8a" fill-opacity="0.5"/><rect x="840.66" y="572.20" width="1.65" height="11.00" fill="#f8bf8a" fill-opacity="0.5"/><rect x="842.83" y="572.20" width="1.65" height="11.00" fill="#f8bf8a" fill-opacity="0.5"/><rect x="845.01" y="572.20" width="1.65" height="11.00" fill="#f8bf8a" fill-opacity="0.5"/><rect x="847.18" y="572.20" width="1.65" height="11.00" fill="#f8bf8a" fill-opacity="0.5"/><rect x="849.36" y="572.20" width="1.65" height="11.00" fill="#f8bf8a" fill-opacity="0.5"/><rect x="851.53" y="572.20" width="1.65" height="11.00" fill="#f8bf8a" fill-opacity="0.5"/><rect x="853.71" y="572.20" width="1.65" height="11.00" fill="#f8bf8a" fill-opacity="0.5"/><rect x="855.88" y="572.20" width="1.65" height="11.00" fill="#f8bf8a" fill-opacity="0.5"/><rect x="858.06" y="572.20" width="1.65" height="11.00" fill="#f8bf8a" fill-opacity="0.5"/><rect x="860.24" y="572.20" width="1.65" height="11.00" fill="#f8bf8a" fill-opacity="0.5"/><rect x="862.41" y="572.20" width="1.65" height="11.00" fill="#f8bf8a" fill-opacity="0.5"/><rect x="864.59" y="572.20" width="1.65" height="11.00" fill="#f8bf8a" fill-opacity="0.5"/><rect x="866.76" y="572.20" width="1.65" height="11.00" fill="#f8bf8a" fill-opacity="0.5"/><rect x="868.94" y="572.20" width="1.65" height="11.00" fill="#f8bf8a" fill-opacity="0.5"/><rect x="871.11" y="572.26" width="1.65" height="10.94" fill="#f8bf8a" fill-opacity="0.5"/><rect x="873.29" y="572.36" width="1.65" height="10.84" fill="#f8bf8a" fill-opacity="0.5"/><rect x="875.46" y="572.47" width="1.65" height="10.73" fill="#f8bf8a" fill-opacity="0.5"/><rect x="877.64" y="572.58" width="1.65" height="10.62" fill="#f8bf8a" fill-opacity="0.5"/><rect x="879.81" y="572.69" width="1.65" height="10.51" fill="#f8bf8a" fill-opacity="0.5"/><rect x="881.99" y="572.80" width="1.65" height="10.40" fill="#f8bf8a" fill-opacity="0.5"/><rect x="884.16" y="572.91" width="1.65" height="10.29" fill="#f8bf8a" fill-opacity="0.5"/><rect x="886.34" y="573.02" width="1.65" height="10.18" fill="#f8bf8a" fill-opacity="0.5"/><rect x="888.51" y="573.13" width="1.65" height="10.07" fill="#f8bf8a" fill-opacity="0.5"/><rect x="890.69" y="573.23" width="1.65" height="9.97" fill="#f8bf8a" fill-opacity="0.5"/><rect x="892.86" y="573.34" width="1.65" height="9.86" fill="#f8bf8a" fill-opacity="0.5"/><rect x="895.04" y="573.45" width="1.65" height="9.75" fill="#f8bf8a" fill-opacity="0.5"/><rect x="897.22" y="573.56" width="1.65" height="9.64" fill="#f8bf8a" fill-opacity="0.5"/><rect x="899.39" y="573.67" width="1.65" height="9.53" fill="#f8bf8a" fill-opacity="0.5"/><rect x="901.57" y="573.83" width="1.65" height="9.37" fill="#f8bf8a" fill-opacity="0.5"/><rect x="903.74" y="574.01" width="1.65" height="9.19" fill="#f8bf8a" fill-opacity="0.5"/><rect x="905.92" y="574.19" width="1.65" height="9.01" fill="#f8bf8a" fill-opacity="0.5"/><rect x="908.09" y="574.37" width="1.65" height="8.83" fill="#f8bf8a" fill-opacity="0.5"/><rect x="910.27" y="574.56" width="1.65" height="8.64" fill="#f8bf8a" fill-opacity="0.5"/><rect x="912.44" y="574.74" width="1.65" height="8.46" fill="#f8bf8a" fill-opacity="0.5"/><rect x="914.62" y="574.92" width="1.65" height="8.28" fill="#f8bf8a" fill-opacity="0.5"/><rect x="916.79" y="575.10" width="1.65" height="8.10" fill="#f8bf8a" fill-opacity="0.5"/><rect x="918.97" y="575.28" width="1.65" height="7.92" fill="#f8bf8a" fill-opacity="0.5"/><rect x="921.14" y="575.46" width="1.65" height="7.74" fill="#f8bf8a" fill-opacity="0.5"/><rect x="923.32" y="575.64" width="1.65" height="7.56" fill="#f8bf8a" fill-opacity="0.5"/><rect x="925.49" y="575.82" width="1.65" height="7.38" fill="#f8bf8a" fill-opacity="0.5"/><rect x="927.67" y="576.01" width="1.65" height="7.19" fill="#f8bf8a" fill-opacity="0.5"/><rect x="929.84" y="576.19" width="1.65" height="7.01" fill="#f8bf8a" fill-opacity="0.5"/><rect x="932.02" y="576.29" width="1.65" height="6.91" fill="#f8bf8a" fill-opacity="0.5"/><rect x="934.20" y="576.40" width="1.65" height="6.80" fill="#f8bf8a" fill-opacity="0.5"/><rect x="936.37" y="576.50" width="1.65" height="6.70" fill="#f8bf8a" fill-opacity="0.5"/><rect x="938.55" y="576.60" width="1.65" height="6.60" fill="#f8bf8a" fill-opacity="0.5"/><rect x="940.72" y="576.70" width="1.65" height="6.50" fill="#f8bf8a" fill-opacity="0.5"/><rect x="942.90" y="576.80" width="1.65" height="6.40" fill="#f8bf8a" fill-opacity="0.5"/><rect x="945.07" y="576.90" width="1.65" height="6.30" fill="#f8bf8a" fill-opacity="0.5"/><rect x="947.25" y="577.03" width="1.65" height="6.17" fill="#f8bf8a" fill-opacity="0.5"/><rect x="949.42" y="577.17" width="1.65" height="6.03" fill="#f8bf8a" fill-opacity="0.5"/><rect x="951.60" y="577.30" width="1.65" height="5.90" fill="#f8bf8a" fill-opacity="0.5"/><rect x="953.77" y="577.43" width="1.65" height="5.77" fill="#f8bf8a" fill-opacity="0.5"/><rect x="955.95" y="577.56" width="1.65" height="5.64" fill="#f8bf8a" fill-opacity="0.5"/><rect x="958.12" y="577.69" width="1.65" height="5.51" fill="#f8bf8a" fill-opacity="0.5"/><rect x="960.30" y="577.82" width="1.65" height="5.38" fill="#f8bf8a" fill-opacity="0.5"/><rect x="962.47" y="577.95" width="1.65" height="5.25" fill="#f8bf8a" fill-opacity="0.5"/><rect x="964.65" y="578.08" width="1.65" height="5.12" fill="#f8bf8a" fill-opacity="0.5"/><rect x="966.82" y="578.21" width="1.65" height="4.99" fill="#f8bf8a" fill-opacity="0.5"/><rect x="969.00" y="578.34" width="1.65" height="4.86" fill="#f8bf8a" fill-opacity="0.5"/><rect x="971.18" y="578.47" width="1.65" height="4.73" fill="#f8bf8a" fill-opacity="0.5"/><rect x="973.35" y="578.60" width="1.65" height="4.60" fill="#f8bf8a" fill-opacity="0.5"/><rect x="975.53" y="578.73" width="1.65" height="4.47" fill="#f8bf8a" fill-opacity="0.5"/><rect x="977.70" y="578.84" width="1.65" height="4.36" fill="#f8bf8a" fill-opacity="0.5"/><rect x="979.88" y="578.95" width="1.65" height="4.25" fill="#f8bf8a" fill-opacity="0.5"/><rect x="982.05" y="579.07" width="1.65" height="4.13" fill="#f8bf8a" fill-opacity="0.5"/><rect x="984.23" y="579.18" width="1.65" height="4.02" fill="#f8bf8a" fill-opacity="0.5"/><rect x="986.40" y="579.29" width="1.65" height="3.91" fill="#f8bf8a" fill-opacity="0.5"/><rect x="988.58" y="579.41" width="1.65" height="3.79" fill="#f8bf8a" fill-opacity="0.5"/><rect x="990.75" y="579.52" width="1.65" height="3.68" fill="#f8bf8a" fill-opacity="0.5"/><rect x="992.93" y="579.63" width="1.65" height="3.57" fill="#f8bf8a" fill-opacity="0.5"/><rect x="995.10" y="579.75" width="1.65" height="3.45" fill="#f8bf8a" fill-opacity="0.5"/><rect x="997.28" y="579.86" width="1.65" height="3.34" fill="#f8bf8a" fill-opacity="0.5"/><rect x="999.45" y="579.97" width="1.65" height="3.23" fill="#f8bf8a" fill-opacity="0.5"/><rect x="1001.63" y="580.36" width="1.65" height="2.84" fill="#f8bf8a" fill-opacity="0.5"/><rect x="1003.80" y="580.84" width="1.65" height="2.36" fill="#f8bf8a" fill-opacity="0.5"/><rect x="1005.98" y="581.32" width="1.65" height="1.88" fill="#f8bf8a" fill-opacity="0.5"/><rect x="1008.16" y="581.79" width="1.65" height="1.41" fill="#f8bf8a" fill-opacity="0.5"/><rect x="1010.33" y="582.22" width="1.65" height="0.98" fill="#f8bf8a" fill-opacity="0.5"/><rect x="1012.51" y="582.33" width="1.65" height="0.87" fill="#f8bf8a" fill-opacity="0.5"/><rect x="1014.68" y="582.43" width="1.65" height="0.77" fill="#f8bf8a" fill-opacity="0.5"/><rect x="1016.86" y="582.54" width="1.65" height="0.66" fill="#f8bf8a" fill-opacity="0.5"/><rect x="1019.03" y="582.65" width="1.65" height="0.55" fill="#f8bf8a" fill-opacity="0.5"/><rect x="1021.21" y="582.76" width="1.65" height="0.44" fill="#f8bf8a" fill-opacity="0.5"/><rect x="1023.38" y="582.87" width="1.65" height="0.33" fill="#f8bf8a" fill-opacity="0.5"/></g>
<g><rect x="79.30" y="582.98" width="1.65" height="0.22" fill="#7f8aa8" fill-opacity="0.5"/><rect x="81.48" y="582.96" width="1.65" height="0.24" fill="#7f8aa8" fill-opacity="0.5"/><rect x="83.65" y="582.93" width="1.65" height="0.27" fill="#7f8aa8" fill-opacity="0.5"/><rect x="85.83" y="582.90" width="1.65" height="0.30" fill="#7f8aa8" fill-opacity="0.5"/><rect x="88.00" y="582.87" width="1.65" height="0.33" fill="#7f8aa8" fill-opacity="0.5"/><rect x="90.18" y="582.85" width="1.65" height="0.35" fill="#7f8aa8" fill-opacity="0.5"/><rect x="92.35" y="582.82" width="1.65" height="0.38" fill="#7f8aa8" fill-opacity="0.5"/><rect x="94.53" y="582.79" width="1.65" height="0.41" fill="#7f8aa8" fill-opacity="0.5"/><rect x="96.70" y="582.77" width="1.65" height="0.43" fill="#7f8aa8" fill-opacity="0.5"/><rect x="98.88" y="582.74" width="1.65" height="0.46" fill="#7f8aa8" fill-opacity="0.5"/><rect x="101.06" y="582.71" width="1.65" height="0.49" fill="#7f8aa8" fill-opacity="0.5"/><rect x="103.23" y="582.68" width="1.65" height="0.52" fill="#7f8aa8" fill-opacity="0.5"/><rect x="105.41" y="582.66" width="1.65" height="0.54" fill="#7f8aa8" fill-opacity="0.5"/><rect x="107.58" y="582.63" width="1.65" height="0.57" fill="#7f8aa8" fill-opacity="0.5"/><rect x="109.76" y="582.60" width="1.65" height="0.60" fill="#7f8aa8" fill-opacity="0.5"/><rect x="111.93" y="582.60" width="1.65" height="0.60" fill="#7f8aa8" fill-opacity="0.5"/><rect x="114.11" y="582.60" width="1.65" height="0.60" fill="#7f8aa8" fill-opacity="0.5"/><rect x="116.28" y="582.60" width="1.65" height="0.60" fill="#7f8aa8" fill-opacity="0.5"/><rect x="118.46" y="582.60" width="1.65" height="0.60" fill="#7f8aa8" fill-opacity="0.5"/><rect x="120.63" y="582.60" width="1.65" height="0.60" fill="#7f8aa8" fill-opacity="0.5"/><rect x="122.81" y="582.60" width="1.65" height="0.60" fill="#7f8aa8" fill-opacity="0.5"/><rect x="124.98" y="582.60" width="1.65" height="0.60" fill="#7f8aa8" fill-opacity="0.5"/><rect x="127.16" y="582.60" width="1.65" height="0.60" fill="#7f8aa8" fill-opacity="0.5"/><rect x="129.33" y="582.60" width="1.65" height="0.60" fill="#7f8aa8" fill-opacity="0.5"/><rect x="131.51" y="582.60" width="1.65" height="0.60" fill="#7f8aa8" fill-opacity="0.5"/><rect x="133.68" y="582.60" width="1.65" height="0.60" fill="#7f8aa8" fill-opacity="0.5"/><rect x="135.86" y="582.60" width="1.65" height="0.60" fill="#7f8aa8" fill-opacity="0.5"/><rect x="138.04" y="582.60" width="1.65" height="0.60" fill="#7f8aa8" fill-opacity="0.5"/><rect x="140.21" y="582.60" width="1.65" height="0.60" fill="#7f8aa8" fill-opacity="0.5"/><rect x="142.39" y="582.60" width="1.65" height="0.60" fill="#7f8aa8" fill-opacity="0.5"/><rect x="144.56" y="582.60" width="1.65" height="0.60" fill="#7f8aa8" fill-opacity="0.5"/><rect x="146.74" y="582.60" width="1.65" height="0.60" fill="#7f8aa8" fill-opacity="0.5"/><rect x="148.91" y="582.60" width="1.65" height="0.60" fill="#7f8aa8" fill-opacity="0.5"/><rect x="151.09" y="582.60" width="1.65" height="0.60" fill="#7f8aa8" fill-opacity="0.5"/><rect x="153.26" y="582.60" width="1.65" height="0.60" fill="#7f8aa8" fill-opacity="0.5"/><rect x="155.44" y="582.60" width="1.65" height="0.60" fill="#7f8aa8" fill-opacity="0.5"/><rect x="157.61" y="582.60" width="1.65" height="0.60" fill="#7f8aa8" fill-opacity="0.5"/><rect x="159.79" y="582.60" width="1.65" height="0.60" fill="#7f8aa8" fill-opacity="0.5"/><rect x="161.96" y="582.63" width="1.65" height="0.57" fill="#7f8aa8" fill-opacity="0.5"/><rect x="164.14" y="582.66" width="1.65" height="0.54" fill="#7f8aa8" fill-opacity="0.5"/><rect x="166.31" y="582.69" width="1.65" height="0.51" fill="#7f8aa8" fill-opacity="0.5"/><rect x="168.49" y="582.73" width="1.65" height="0.47" fill="#7f8aa8" fill-opacity="0.5"/><rect x="170.66" y="582.76" width="1.65" height="0.44" fill="#7f8aa8" fill-opacity="0.5"/><rect x="172.84" y="582.79" width="1.65" height="0.41" fill="#7f8aa8" fill-opacity="0.5"/><rect x="175.02" y="582.83" width="1.65" height="0.37" fill="#7f8aa8" fill-opacity="0.5"/><rect x="177.19" y="582.86" width="1.65" height="0.34" fill="#7f8aa8" fill-opacity="0.5"/><rect x="179.37" y="582.89" width="1.65" height="0.31" fill="#7f8aa8" fill-opacity="0.5"/><rect x="181.54" y="582.92" width="1.65" height="0.28" fill="#7f8aa8" fill-opacity="0.5"/><rect x="183.72" y="582.96" width="1.65" height="0.24" fill="#7f8aa8" fill-opacity="0.5"/><rect x="185.89" y="582.99" width="1.65" height="0.21" fill="#7f8aa8" fill-opacity="0.5"/><rect x="586.15" y="582.89" width="1.65" height="0.31" fill="#7f8aa8" fill-opacity="0.5"/><rect x="588.32" y="582.78" width="1.65" height="0.42" fill="#7f8aa8" fill-opacity="0.5"/><rect x="590.50" y="582.68" width="1.65" height="0.52" fill="#7f8aa8" fill-opacity="0.5"/><rect x="592.67" y="582.57" width="1.65" height="0.63" fill="#7f8aa8" fill-opacity="0.5"/><rect x="594.85" y="582.46" width="1.65" height="0.74" fill="#7f8aa8" fill-opacity="0.5"/><rect x="597.02" y="582.35" width="1.65" height="0.85" fill="#7f8aa8" fill-opacity="0.5"/><rect x="599.20" y="582.24" width="1.65" height="0.96" fill="#7f8aa8" fill-opacity="0.5"/><rect x="601.37" y="582.20" width="1.65" height="1.00" fill="#7f8aa8" fill-opacity="0.5"/><rect x="603.55" y="582.20" width="1.65" height="1.00" fill="#7f8aa8" fill-opacity="0.5"/><rect x="605.73" y="582.20" width="1.65" height="1.00" fill="#7f8aa8" fill-opacity="0.5"/><rect x="607.90" y="582.20" width="1.65" height="1.00" fill="#7f8aa8" fill-opacity="0.5"/><rect x="610.08" y="582.20" width="1.65" height="1.00" fill="#7f8aa8" fill-opacity="0.5"/><rect x="612.25" y="582.20" width="1.65" height="1.00" fill="#7f8aa8" fill-opacity="0.5"/><rect x="614.43" y="582.20" width="1.65" height="1.00" fill="#7f8aa8" fill-opacity="0.5"/><rect x="616.60" y="582.20" width="1.65" height="1.00" fill="#7f8aa8" fill-opacity="0.5"/><rect x="618.78" y="582.20" width="1.65" height="1.00" fill="#7f8aa8" fill-opacity="0.5"/><rect x="620.95" y="582.20" width="1.65" height="1.00" fill="#7f8aa8" fill-opacity="0.5"/><rect x="623.13" y="582.20" width="1.65" height="1.00" fill="#7f8aa8" fill-opacity="0.5"/><rect x="625.30" y="582.20" width="1.65" height="1.00" fill="#7f8aa8" fill-opacity="0.5"/><rect x="627.48" y="582.20" width="1.65" height="1.00" fill="#7f8aa8" fill-opacity="0.5"/><rect x="629.65" y="582.20" width="1.65" height="1.00" fill="#7f8aa8" fill-opacity="0.5"/><rect x="631.83" y="582.20" width="1.65" height="1.00" fill="#7f8aa8" fill-opacity="0.5"/><rect x="634.00" y="582.20" width="1.65" height="1.00" fill="#7f8aa8" fill-opacity="0.5"/><rect x="636.18" y="582.20" width="1.65" height="1.00" fill="#7f8aa8" fill-opacity="0.5"/><rect x="638.35" y="582.20" width="1.65" height="1.00" fill="#7f8aa8" fill-opacity="0.5"/><rect x="640.53" y="582.20" width="1.65" height="1.00" fill="#7f8aa8" fill-opacity="0.5"/><rect x="642.71" y="582.20" width="1.65" height="1.00" fill="#7f8aa8" fill-opacity="0.5"/><rect x="644.88" y="582.20" width="1.65" height="1.00" fill="#7f8aa8" fill-opacity="0.5"/><rect x="647.06" y="582.20" width="1.65" height="1.00" fill="#7f8aa8" fill-opacity="0.5"/><rect x="649.23" y="582.20" width="1.65" height="1.00" fill="#7f8aa8" fill-opacity="0.5"/><rect x="651.41" y="582.20" width="1.65" height="1.00" fill="#7f8aa8" fill-opacity="0.5"/><rect x="653.58" y="582.20" width="1.65" height="1.00" fill="#7f8aa8" fill-opacity="0.5"/><rect x="655.76" y="582.20" width="1.65" height="1.00" fill="#7f8aa8" fill-opacity="0.5"/><rect x="657.93" y="582.20" width="1.65" height="1.00" fill="#7f8aa8" fill-opacity="0.5"/><rect x="660.11" y="582.20" width="1.65" height="1.00" fill="#7f8aa8" fill-opacity="0.5"/><rect x="662.28" y="582.20" width="1.65" height="1.00" fill="#7f8aa8" fill-opacity="0.5"/><rect x="664.46" y="582.20" width="1.65" height="1.00" fill="#7f8aa8" fill-opacity="0.5"/><rect x="666.63" y="582.20" width="1.65" height="1.00" fill="#7f8aa8" fill-opacity="0.5"/><rect x="668.81" y="582.20" width="1.65" height="1.00" fill="#7f8aa8" fill-opacity="0.5"/><rect x="670.98" y="582.20" width="1.65" height="1.00" fill="#7f8aa8" fill-opacity="0.5"/><rect x="673.16" y="582.20" width="1.65" height="1.00" fill="#7f8aa8" fill-opacity="0.5"/><rect x="675.33" y="582.20" width="1.65" height="1.00" fill="#7f8aa8" fill-opacity="0.5"/><rect x="677.51" y="582.20" width="1.65" height="1.00" fill="#7f8aa8" fill-opacity="0.5"/><rect x="679.69" y="582.20" width="1.65" height="1.00" fill="#7f8aa8" fill-opacity="0.5"/><rect x="681.86" y="582.20" width="1.65" height="1.00" fill="#7f8aa8" fill-opacity="0.5"/><rect x="684.04" y="582.20" width="1.65" height="1.00" fill="#7f8aa8" fill-opacity="0.5"/><rect x="686.21" y="582.20" width="1.65" height="1.00" fill="#7f8aa8" fill-opacity="0.5"/><rect x="688.39" y="582.20" width="1.65" height="1.00" fill="#7f8aa8" fill-opacity="0.5"/><rect x="690.56" y="582.20" width="1.65" height="1.00" fill="#7f8aa8" fill-opacity="0.5"/><rect x="692.74" y="582.20" width="1.65" height="1.00" fill="#7f8aa8" fill-opacity="0.5"/><rect x="694.91" y="582.20" width="1.65" height="1.00" fill="#7f8aa8" fill-opacity="0.5"/><rect x="697.09" y="582.20" width="1.65" height="1.00" fill="#7f8aa8" fill-opacity="0.5"/><rect x="699.26" y="582.20" width="1.65" height="1.00" fill="#7f8aa8" fill-opacity="0.5"/><rect x="701.44" y="582.21" width="1.65" height="0.99" fill="#7f8aa8" fill-opacity="0.5"/><rect x="703.61" y="582.22" width="1.65" height="0.98" fill="#7f8aa8" fill-opacity="0.5"/><rect x="705.79" y="582.24" width="1.65" height="0.96" fill="#7f8aa8" fill-opacity="0.5"/><rect x="707.96" y="582.25" width="1.65" height="0.95" fill="#7f8aa8" fill-opacity="0.5"/><rect x="710.14" y="582.27" width="1.65" height="0.93" fill="#7f8aa8" fill-opacity="0.5"/><rect x="712.31" y="582.28" width="1.65" height="0.92" fill="#7f8aa8" fill-opacity="0.5"/><rect x="714.49" y="582.30" width="1.65" height="0.90" fill="#7f8aa8" fill-opacity="0.5"/><rect x="716.67" y="582.31" width="1.65" height="0.89" fill="#7f8aa8" fill-opacity="0.5"/><rect x="718.84" y="582.33" width="1.65" height="0.87" fill="#7f8aa8" fill-opacity="0.5"/><rect x="721.02" y="582.34" width="1.65" height="0.86" fill="#7f8aa8" fill-opacity="0.5"/><rect x="723.19" y="582.35" width="1.65" height="0.85" fill="#7f8aa8" fill-opacity="0.5"/><rect x="725.37" y="582.37" width="1.65" height="0.83" fill="#7f8aa8" fill-opacity="0.5"/><rect x="727.54" y="582.38" width="1.65" height="0.82" fill="#7f8aa8" fill-opacity="0.5"/><rect x="729.72" y="582.40" width="1.65" height="0.80" fill="#7f8aa8" fill-opacity="0.5"/><rect x="731.89" y="582.41" width="1.65" height="0.79" fill="#7f8aa8" fill-opacity="0.5"/><rect x="734.07" y="582.43" width="1.65" height="0.77" fill="#7f8aa8" fill-opacity="0.5"/><rect x="736.24" y="582.44" width="1.65" height="0.76" fill="#7f8aa8" fill-opacity="0.5"/><rect x="738.42" y="582.46" width="1.65" height="0.74" fill="#7f8aa8" fill-opacity="0.5"/><rect x="740.59" y="582.47" width="1.65" height="0.73" fill="#7f8aa8" fill-opacity="0.5"/><rect x="742.77" y="582.49" width="1.65" height="0.71" fill="#7f8aa8" fill-opacity="0.5"/><rect x="744.94" y="582.50" width="1.65" height="0.70" fill="#7f8aa8" fill-opacity="0.5"/><rect x="747.12" y="582.51" width="1.65" height="0.69" fill="#7f8aa8" fill-opacity="0.5"/><rect x="749.29" y="582.53" width="1.65" height="0.67" fill="#7f8aa8" fill-opacity="0.5"/><rect x="751.47" y="582.54" width="1.65" height="0.66" fill="#7f8aa8" fill-opacity="0.5"/><rect x="753.65" y="582.56" width="1.65" height="0.64" fill="#7f8aa8" fill-opacity="0.5"/><rect x="755.82" y="582.57" width="1.65" height="0.63" fill="#7f8aa8" fill-opacity="0.5"/><rect x="758.00" y="582.59" width="1.65" height="0.61" fill="#7f8aa8" fill-opacity="0.5"/><rect x="760.17" y="582.60" width="1.65" height="0.60" fill="#7f8aa8" fill-opacity="0.5"/><rect x="762.35" y="582.56" width="1.65" height="0.64" fill="#7f8aa8" fill-opacity="0.5"/><rect x="764.52" y="582.52" width="1.65" height="0.68" fill="#7f8aa8" fill-opacity="0.5"/><rect x="766.70" y="582.48" width="1.65" height="0.72" fill="#7f8aa8" fill-opacity="0.5"/><rect x="768.87" y="582.44" width="1.65" height="0.76" fill="#7f8aa8" fill-opacity="0.5"/><rect x="771.05" y="582.41" width="1.65" height="0.79" fill="#7f8aa8" fill-opacity="0.5"/><rect x="773.22" y="582.37" width="1.65" height="0.83" fill="#7f8aa8" fill-opacity="0.5"/><rect x="775.40" y="582.33" width="1.65" height="0.87" fill="#7f8aa8" fill-opacity="0.5"/><rect x="777.57" y="582.29" width="1.65" height="0.91" fill="#7f8aa8" fill-opacity="0.5"/><rect x="779.75" y="582.25" width="1.65" height="0.95" fill="#7f8aa8" fill-opacity="0.5"/><rect x="781.92" y="582.22" width="1.65" height="0.98" fill="#7f8aa8" fill-opacity="0.5"/><rect x="784.10" y="582.18" width="1.65" height="1.02" fill="#7f8aa8" fill-opacity="0.5"/><rect x="786.27" y="582.14" width="1.65" height="1.06" fill="#7f8aa8" fill-opacity="0.5"/><rect x="788.45" y="582.10" width="1.65" height="1.10" fill="#7f8aa8" fill-opacity="0.5"/><rect x="790.63" y="582.06" width="1.65" height="1.14" fill="#7f8aa8" fill-opacity="0.5"/><rect x="792.80" y="582.03" width="1.65" height="1.17" fill="#7f8aa8" fill-opacity="0.5"/><rect x="794.98" y="581.99" width="1.65" height="1.21" fill="#7f8aa8" fill-opacity="0.5"/><rect x="797.15" y="581.95" width="1.65" height="1.25" fill="#7f8aa8" fill-opacity="0.5"/><rect x="799.33" y="581.91" width="1.65" height="1.29" fill="#7f8aa8" fill-opacity="0.5"/><rect x="801.50" y="581.90" width="1.65" height="1.30" fill="#7f8aa8" fill-opacity="0.5"/><rect x="803.68" y="581.90" width="1.65" height="1.30" fill="#7f8aa8" fill-opacity="0.5"/><rect x="805.85" y="581.90" width="1.65" height="1.30" fill="#7f8aa8" fill-opacity="0.5"/><rect x="808.03" y="581.90" width="1.65" height="1.30" fill="#7f8aa8" fill-opacity="0.5"/><rect x="810.20" y="581.90" width="1.65" height="1.30" fill="#7f8aa8" fill-opacity="0.5"/><rect x="812.38" y="581.90" width="1.65" height="1.30" fill="#7f8aa8" fill-opacity="0.5"/><rect x="814.55" y="581.90" width="1.65" height="1.30" fill="#7f8aa8" fill-opacity="0.5"/><rect x="816.73" y="581.90" width="1.65" height="1.30" fill="#7f8aa8" fill-opacity="0.5"/><rect x="818.90" y="581.90" width="1.65" height="1.30" fill="#7f8aa8" fill-opacity="0.5"/><rect x="821.08" y="581.90" width="1.65" height="1.30" fill="#7f8aa8" fill-opacity="0.5"/><rect x="823.25" y="581.90" width="1.65" height="1.30" fill="#7f8aa8" fill-opacity="0.5"/><rect x="825.43" y="581.90" width="1.65" height="1.30" fill="#7f8aa8" fill-opacity="0.5"/><rect x="827.61" y="581.90" width="1.65" height="1.30" fill="#7f8aa8" fill-opacity="0.5"/><rect x="829.78" y="581.90" width="1.65" height="1.30" fill="#7f8aa8" fill-opacity="0.5"/><rect x="831.96" y="581.90" width="1.65" height="1.30" fill="#7f8aa8" fill-opacity="0.5"/><rect x="834.13" y="581.90" width="1.65" height="1.30" fill="#7f8aa8" fill-opacity="0.5"/><rect x="836.31" y="581.90" width="1.65" height="1.30" fill="#7f8aa8" fill-opacity="0.5"/><rect x="838.48" y="581.90" width="1.65" height="1.30" fill="#7f8aa8" fill-opacity="0.5"/><rect x="840.66" y="581.90" width="1.65" height="1.30" fill="#7f8aa8" fill-opacity="0.5"/><rect x="842.83" y="581.90" width="1.65" height="1.30" fill="#7f8aa8" fill-opacity="0.5"/><rect x="845.01" y="581.90" width="1.65" height="1.30" fill="#7f8aa8" fill-opacity="0.5"/><rect x="847.18" y="581.90" width="1.65" height="1.30" fill="#7f8aa8" fill-opacity="0.5"/><rect x="849.36" y="581.90" width="1.65" height="1.30" fill="#7f8aa8" fill-opacity="0.5"/><rect x="851.53" y="581.90" width="1.65" height="1.30" fill="#7f8aa8" fill-opacity="0.5"/><rect x="853.71" y="581.90" width="1.65" height="1.30" fill="#7f8aa8" fill-opacity="0.5"/><rect x="855.88" y="581.90" width="1.65" height="1.30" fill="#7f8aa8" fill-opacity="0.5"/><rect x="858.06" y="581.90" width="1.65" height="1.30" fill="#7f8aa8" fill-opacity="0.5"/><rect x="860.24" y="581.90" width="1.65" height="1.30" fill="#7f8aa8" fill-opacity="0.5"/><rect x="862.41" y="581.90" width="1.65" height="1.30" fill="#7f8aa8" fill-opacity="0.5"/><rect x="864.59" y="581.90" width="1.65" height="1.30" fill="#7f8aa8" fill-opacity="0.5"/><rect x="866.76" y="581.90" width="1.65" height="1.30" fill="#7f8aa8" fill-opacity="0.5"/><rect x="868.94" y="581.90" width="1.65" height="1.30" fill="#7f8aa8" fill-opacity="0.5"/><rect x="871.11" y="581.90" width="1.65" height="1.30" fill="#7f8aa8" fill-opacity="0.5"/><rect x="873.29" y="581.90" width="1.65" height="1.30" fill="#7f8aa8" fill-opacity="0.5"/><rect x="875.46" y="581.90" width="1.65" height="1.30" fill="#7f8aa8" fill-opacity="0.5"/><rect x="877.64" y="581.90" width="1.65" height="1.30" fill="#7f8aa8" fill-opacity="0.5"/><rect x="879.81" y="581.90" width="1.65" height="1.30" fill="#7f8aa8" fill-opacity="0.5"/><rect x="881.99" y="581.90" width="1.65" height="1.30" fill="#7f8aa8" fill-opacity="0.5"/><rect x="884.16" y="581.90" width="1.65" height="1.30" fill="#7f8aa8" fill-opacity="0.5"/><rect x="886.34" y="581.90" width="1.65" height="1.30" fill="#7f8aa8" fill-opacity="0.5"/><rect x="888.51" y="581.90" width="1.65" height="1.30" fill="#7f8aa8" fill-opacity="0.5"/><rect x="890.69" y="581.90" width="1.65" height="1.30" fill="#7f8aa8" fill-opacity="0.5"/><rect x="892.86" y="581.90" width="1.65" height="1.30" fill="#7f8aa8" fill-opacity="0.5"/><rect x="895.04" y="581.90" width="1.65" height="1.30" fill="#7f8aa8" fill-opacity="0.5"/><rect x="897.22" y="581.90" width="1.65" height="1.30" fill="#7f8aa8" fill-opacity="0.5"/><rect x="899.39" y="581.90" width="1.65" height="1.30" fill="#7f8aa8" fill-opacity="0.5"/><rect x="901.57" y="581.92" width="1.65" height="1.28" fill="#7f8aa8" fill-opacity="0.5"/><rect x="903.74" y="581.95" width="1.65" height="1.25" fill="#7f8aa8" fill-opacity="0.5"/><rect x="905.92" y="581.98" width="1.65" height="1.22" fill="#7f8aa8" fill-opacity="0.5"/><rect x="908.09" y="582.01" width="1.65" height="1.19" fill="#7f8aa8" fill-opacity="0.5"/><rect x="910.27" y="582.04" width="1.65" height="1.16" fill="#7f8aa8" fill-opacity="0.5"/><rect x="912.44" y="582.07" width="1.65" height="1.13" fill="#7f8aa8" fill-opacity="0.5"/><rect x="914.62" y="582.09" width="1.65" height="1.11" fill="#7f8aa8" fill-opacity="0.5"/><rect x="916.79" y="582.12" width="1.65" height="1.08" fill="#7f8aa8" fill-opacity="0.5"/><rect x="918.97" y="582.15" width="1.65" height="1.05" fill="#7f8aa8" fill-opacity="0.5"/><rect x="921.14" y="582.18" width="1.65" height="1.02" fill="#7f8aa8" fill-opacity="0.5"/><rect x="923.32" y="582.21" width="1.65" height="0.99" fill="#7f8aa8" fill-opacity="0.5"/><rect x="925.49" y="582.24" width="1.65" height="0.96" fill="#7f8aa8" fill-opacity="0.5"/><rect x="927.67" y="582.27" width="1.65" height="0.93" fill="#7f8aa8" fill-opacity="0.5"/><rect x="929.84" y="582.30" width="1.65" height="0.90" fill="#7f8aa8" fill-opacity="0.5"/><rect x="932.02" y="582.33" width="1.65" height="0.87" fill="#7f8aa8" fill-opacity="0.5"/><rect x="934.20" y="582.36" width="1.65" height="0.84" fill="#7f8aa8" fill-opacity="0.5"/><rect x="936.37" y="582.38" width="1.65" height="0.82" fill="#7f8aa8" fill-opacity="0.5"/><rect x="938.55" y="582.41" width="1.65" height="0.79" fill="#7f8aa8" fill-opacity="0.5"/><rect x="940.72" y="582.44" width="1.65" height="0.76" fill="#7f8aa8" fill-opacity="0.5"/><rect x="942.90" y="582.47" width="1.65" height="0.73" fill="#7f8aa8" fill-opacity="0.5"/><rect x="945.07" y="582.50" width="1.65" height="0.70" fill="#7f8aa8" fill-opacity="0.5"/><rect x="947.25" y="582.53" width="1.65" height="0.67" fill="#7f8aa8" fill-opacity="0.5"/><rect x="949.42" y="582.56" width="1.65" height="0.64" fill="#7f8aa8" fill-opacity="0.5"/><rect x="951.60" y="582.59" width="1.65" height="0.61" fill="#7f8aa8" fill-opacity="0.5"/><rect x="953.77" y="582.62" width="1.65" height="0.58" fill="#7f8aa8" fill-opacity="0.5"/><rect x="955.95" y="582.65" width="1.65" height="0.55" fill="#7f8aa8" fill-opacity="0.5"/><rect x="958.12" y="582.67" width="1.65" height="0.53" fill="#7f8aa8" fill-opacity="0.5"/><rect x="960.30" y="582.70" width="1.65" height="0.50" fill="#7f8aa8" fill-opacity="0.5"/><rect x="962.47" y="582.73" width="1.65" height="0.47" fill="#7f8aa8" fill-opacity="0.5"/><rect x="964.65" y="582.76" width="1.65" height="0.44" fill="#7f8aa8" fill-opacity="0.5"/><rect x="966.82" y="582.79" width="1.65" height="0.41" fill="#7f8aa8" fill-opacity="0.5"/><rect x="969.00" y="582.81" width="1.65" height="0.39" fill="#7f8aa8" fill-opacity="0.5"/><rect x="971.18" y="582.84" width="1.65" height="0.36" fill="#7f8aa8" fill-opacity="0.5"/><rect x="973.35" y="582.87" width="1.65" height="0.33" fill="#7f8aa8" fill-opacity="0.5"/><rect x="975.53" y="582.89" width="1.65" height="0.31" fill="#7f8aa8" fill-opacity="0.5"/><rect x="977.70" y="582.92" width="1.65" height="0.28" fill="#7f8aa8" fill-opacity="0.5"/><rect x="979.88" y="582.95" width="1.65" height="0.25" fill="#7f8aa8" fill-opacity="0.5"/><rect x="982.05" y="582.98" width="1.65" height="0.22" fill="#7f8aa8" fill-opacity="0.5"/></g>
<line x1="61.3" x2="1149.5" y1="583.2" y2="583.2" stroke="#b3a5a8" stroke-width="1.6"/>
<line x1="61.5" x2="61.5" y1="583.2" y2="589.5" stroke="#a9a9ae" stroke-width="1"/>
<line x1="1148.6" x2="1148.6" y1="583.2" y2="589.5" stroke="#a9a9ae" stroke-width="1"/>
<text x="134.5" y="600.8" text-anchor="middle" class="ax xl">1/4/2020</text>
<text x="333.0" y="600.8" text-anchor="middle" class="ax xl">1/7/2020</text>
<text x="531.1" y="600.8" text-anchor="middle" class="ax xl">1/10/2020</text>
<text x="729.6" y="600.8" text-anchor="middle" class="ax xl">1/1/2021</text>
<text x="927.6" y="600.8" text-anchor="middle" class="ax xl">1/4/2021</text>
<text x="1126.4" y="600.8" text-anchor="middle" class="ax xl">1/7/2021</text>
</svg>
</body></html>
